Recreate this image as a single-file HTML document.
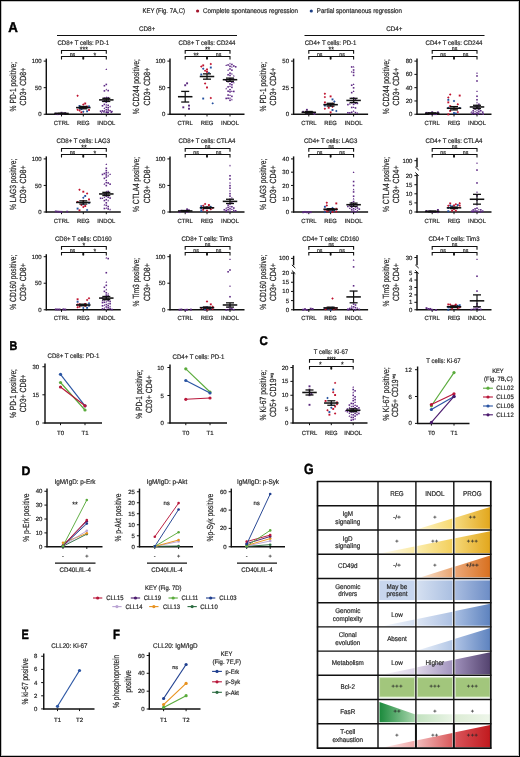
<!DOCTYPE html>
<html><head><meta charset="utf-8"><style>
html,body{margin:0;padding:0;background:#fff;}
body{width:520px;height:757px;overflow:hidden;}
svg{display:block;font-family:"Liberation Sans", sans-serif;will-change:transform;}
text{stroke:#2a2a2a;stroke-width:0.2px;text-rendering:geometricPrecision;}
</style></head><body>
<svg width="520" height="757" viewBox="0 0 520 757">
<defs><linearGradient id="g0" x1="0" y1="0" x2="1" y2="0"><stop offset="0" stop-color="#fdf3c6"/><stop offset="1" stop-color="#f6d971"/></linearGradient><linearGradient id="g1" x1="0" y1="0" x2="1" y2="0"><stop offset="0" stop-color="#f6da7e"/><stop offset="1" stop-color="#e2a71d"/></linearGradient><linearGradient id="g2" x1="0" y1="0" x2="1" y2="0"><stop offset="0" stop-color="#fffaea"/><stop offset="1" stop-color="#faeaa6"/></linearGradient><linearGradient id="g3" x1="0" y1="0" x2="1" y2="0"><stop offset="0" stop-color="#fbecab"/><stop offset="1" stop-color="#f3cf5c"/></linearGradient><linearGradient id="g4" x1="0" y1="0" x2="1" y2="0"><stop offset="0" stop-color="#f5d776"/><stop offset="1" stop-color="#e2a71d"/></linearGradient><linearGradient id="g5" x1="0" y1="0" x2="1" y2="0"><stop offset="0" stop-color="#f9e2cc"/><stop offset="1" stop-color="#eaa673"/></linearGradient><linearGradient id="g6" x1="0" y1="0" x2="1" y2="0"><stop offset="0" stop-color="#eca878"/><stop offset="1" stop-color="#d8701f"/></linearGradient><linearGradient id="g7" x1="0" y1="0" x2="1" y2="0"><stop offset="0" stop-color="#d5e0f1"/><stop offset="1" stop-color="#aabfe1"/></linearGradient><linearGradient id="g8" x1="0" y1="0" x2="1" y2="0"><stop offset="0" stop-color="#a9bde0"/><stop offset="1" stop-color="#6d8dc6"/></linearGradient><linearGradient id="g9" x1="0" y1="0" x2="1" y2="0"><stop offset="0" stop-color="#f0f4fb"/><stop offset="1" stop-color="#d5e0f2"/></linearGradient><linearGradient id="g10" x1="0" y1="0" x2="1" y2="0"><stop offset="0" stop-color="#dce5f4"/><stop offset="1" stop-color="#adc1e3"/></linearGradient><linearGradient id="g11" x1="0" y1="0" x2="1" y2="0"><stop offset="0" stop-color="#a8bee2"/><stop offset="1" stop-color="#5e83bf"/></linearGradient><linearGradient id="g12" x1="0" y1="0" x2="1" y2="0"><stop offset="0" stop-color="#eaf0f9"/><stop offset="1" stop-color="#b3c7e6"/></linearGradient><linearGradient id="g13" x1="0" y1="0" x2="1" y2="0"><stop offset="0" stop-color="#afc3e5"/><stop offset="1" stop-color="#5e83bf"/></linearGradient><linearGradient id="g14" x1="0" y1="0" x2="1" y2="0"><stop offset="0" stop-color="#f5f2f8"/><stop offset="1" stop-color="#ddd5e8"/></linearGradient><linearGradient id="g15" x1="0" y1="0" x2="1" y2="0"><stop offset="0" stop-color="#ded6e8"/><stop offset="1" stop-color="#a395bf"/></linearGradient><linearGradient id="g16" x1="0" y1="0" x2="1" y2="0"><stop offset="0" stop-color="#9e8fba"/><stop offset="1" stop-color="#54436f"/></linearGradient><linearGradient id="g17" x1="0" y1="0" x2="1" y2="0"><stop offset="0" stop-color="#1b8a3c"/><stop offset="1" stop-color="#a9d6ad"/></linearGradient><linearGradient id="g18" x1="0" y1="0" x2="1" y2="0"><stop offset="0" stop-color="#c3e2c0"/><stop offset="1" stop-color="#eaf4e6"/></linearGradient><linearGradient id="g19" x1="0" y1="0" x2="1" y2="0"><stop offset="0" stop-color="#dcecd5"/><stop offset="1" stop-color="#eef6ea"/></linearGradient><linearGradient id="g20" x1="0" y1="0" x2="1" y2="0"><stop offset="0" stop-color="#fdeaea"/><stop offset="1" stop-color="#f0a9a9"/></linearGradient><linearGradient id="g21" x1="0" y1="0" x2="1" y2="0"><stop offset="0" stop-color="#f2baba"/><stop offset="1" stop-color="#d95a5c"/></linearGradient><linearGradient id="g22" x1="0" y1="0" x2="1" y2="0"><stop offset="0" stop-color="#d9545a"/><stop offset="1" stop-color="#c11a1e"/></linearGradient></defs>
<rect x="0" y="0" width="520" height="757" fill="#fff"/>
<text x="142.50" y="13.24" font-size="6.8" text-anchor="start" fill="#262626" textLength="42.50" lengthAdjust="spacingAndGlyphs">KEY (Fig. 7A,C)</text>
<circle cx="197.60" cy="11.00" r="1.6" fill="#a3142c"/>
<text x="203.00" y="13.24" font-size="6.8" text-anchor="start" fill="#262626" textLength="95.00" lengthAdjust="spacingAndGlyphs">Complete spontaneous regression</text>
<circle cx="311.30" cy="11.00" r="1.6" fill="#1d3f86"/>
<text x="316.80" y="13.24" font-size="6.8" text-anchor="start" fill="#262626" textLength="85.20" lengthAdjust="spacingAndGlyphs">Partial spontaneous regression</text>
<text x="8.30" y="31.90" font-size="14.06" font-weight="bold" fill="#000" style="stroke:#000;stroke-width:0.45px" textLength="9.60" lengthAdjust="spacingAndGlyphs">A</text>
<text x="9.60" y="349.60" font-size="12.61" font-weight="bold" fill="#000" style="stroke:#000;stroke-width:0.45px" textLength="7.80" lengthAdjust="spacingAndGlyphs">B</text>
<text x="259.60" y="344.60" font-size="12.61" font-weight="bold" fill="#000" style="stroke:#000;stroke-width:0.45px" textLength="8.30" lengthAdjust="spacingAndGlyphs">C</text>
<text x="21.40" y="474.60" font-size="12.32" font-weight="bold" fill="#000" style="stroke:#000;stroke-width:0.45px" textLength="8.90" lengthAdjust="spacingAndGlyphs">D</text>
<text x="21.40" y="639.30" font-size="13.48" font-weight="bold" fill="#000" style="stroke:#000;stroke-width:0.45px" textLength="7.30" lengthAdjust="spacingAndGlyphs">E</text>
<text x="113.00" y="639.30" font-size="13.48" font-weight="bold" fill="#000" style="stroke:#000;stroke-width:0.45px" textLength="7.00" lengthAdjust="spacingAndGlyphs">F</text>
<text x="304.00" y="474.40" font-size="14.64" font-weight="bold" fill="#000" style="stroke:#000;stroke-width:0.45px" textLength="9.60" lengthAdjust="spacingAndGlyphs">G</text>
<text x="147.00" y="30.90" font-size="6.7" text-anchor="middle" fill="#262626" textLength="16.20" lengthAdjust="spacingAndGlyphs">CD8+</text>
<line x1="57.00" y1="35.50" x2="237.00" y2="35.50" stroke="#111" stroke-width="1.2"/>
<text x="394.40" y="30.90" font-size="6.7" text-anchor="middle" fill="#262626" textLength="16.20" lengthAdjust="spacingAndGlyphs">CD4+</text>
<line x1="304.50" y1="35.50" x2="484.50" y2="35.50" stroke="#111" stroke-width="1.2"/>
<text x="83.30" y="44.77" font-size="6.6" text-anchor="middle" fill="#262626" textLength="51.72" lengthAdjust="spacingAndGlyphs">CD8+ T cells: PD-1</text>
<text x="83.90" y="52.25" font-size="7.6" text-anchor="middle" fill="#111" textLength="8.10" lengthAdjust="spacingAndGlyphs">***</text>
<path d="M61.50,53.70 V50.50 H106.30 V53.70" fill="none" stroke="#111" stroke-width="1.1"/>
<path d="M61.50,59.40 V56.50 H106.30 V59.40 M83.30,56.50 V59.40" fill="none" stroke="#111" stroke-width="1.1"/>
<rect x="82.40" y="57.10" width="1.80" height="2.20" fill="#111"/>
<text x="72.40" y="55.59" font-size="5.2" text-anchor="middle" fill="#262626">ns</text>
<text x="94.80" y="57.75" font-size="7.6" text-anchor="middle" fill="#111" textLength="2.70" lengthAdjust="spacingAndGlyphs">*</text>
<line x1="46.30" y1="58.60" x2="46.30" y2="114.85" stroke="#111" stroke-width="1.45"/>
<line x1="45.70" y1="114.25" x2="120.80" y2="114.25" stroke="#111" stroke-width="1.45"/>
<line x1="43.70" y1="61.10" x2="46.30" y2="61.10" stroke="#111" stroke-width="1.0"/>
<text x="41.70" y="63.16" font-size="6.0" text-anchor="end" fill="#262626">100</text>
<line x1="43.70" y1="87.67" x2="46.30" y2="87.67" stroke="#111" stroke-width="1.0"/>
<text x="41.70" y="89.74" font-size="6.0" text-anchor="end" fill="#262626">50</text>
<line x1="43.70" y1="114.25" x2="46.30" y2="114.25" stroke="#111" stroke-width="1.0"/>
<text x="41.70" y="116.31" font-size="6.0" text-anchor="end" fill="#262626">0</text>
<line x1="61.50" y1="114.25" x2="61.50" y2="116.45" stroke="#111" stroke-width="1.0"/>
<text x="61.50" y="124.86" font-size="6.0" text-anchor="middle" fill="#262626" textLength="15.28" lengthAdjust="spacingAndGlyphs">CTRL</text>
<line x1="83.30" y1="114.25" x2="83.30" y2="116.45" stroke="#111" stroke-width="1.0"/>
<text x="83.30" y="124.86" font-size="6.0" text-anchor="middle" fill="#262626" textLength="12.68" lengthAdjust="spacingAndGlyphs">REG</text>
<line x1="106.30" y1="114.25" x2="106.30" y2="116.45" stroke="#111" stroke-width="1.0"/>
<text x="106.30" y="124.86" font-size="6.0" text-anchor="middle" fill="#262626" textLength="17.88" lengthAdjust="spacingAndGlyphs">INDOL</text>
<text x="15.70" y="86.65" font-size="8.9" text-anchor="middle" fill="#262626" textLength="49.52" lengthAdjust="spacingAndGlyphs" transform="rotate(-90 15.70 86.65)">% PD-1 positive;</text>
<text x="25.90" y="86.65" font-size="8.9" text-anchor="middle" fill="#262626" textLength="37.86" lengthAdjust="spacingAndGlyphs" transform="rotate(-90 25.90 86.65)">CD3+ CD8+</text>
<rect x="60.55" y="111.80" width="1.90" height="1.90" fill="#5b2a7e"/>
<rect x="64.35" y="112.11" width="1.90" height="1.90" fill="#5b2a7e"/>
<rect x="62.45" y="112.69" width="1.90" height="1.90" fill="#5b2a7e"/>
<rect x="54.85" y="112.60" width="1.90" height="1.90" fill="#5b2a7e"/>
<rect x="58.65" y="112.95" width="1.90" height="1.90" fill="#5b2a7e"/>
<rect x="56.75" y="113.18" width="1.90" height="1.90" fill="#5b2a7e"/>
<polygon points="77.60,94.61 78.83,95.84 77.60,97.08 76.36,95.84" fill="#c0122e"/>
<rect x="84.25" y="102.53" width="1.90" height="1.90" fill="#c0122e"/>
<polygon points="83.30,103.28 84.53,104.52 83.30,105.75 82.06,104.52" fill="#c0122e"/>
<rect x="78.55" y="105.04" width="1.90" height="1.90" fill="#234f9e"/>
<polygon points="89.00,104.91 90.23,106.14 89.00,107.38 87.77,106.14" fill="#234f9e"/>
<rect x="86.15" y="105.68" width="1.90" height="1.90" fill="#c0122e"/>
<polygon points="83.30,106.08 84.53,107.32 83.30,108.55 82.06,107.32" fill="#c0122e"/>
<rect x="84.25" y="106.87" width="1.90" height="1.90" fill="#c0122e"/>
<polygon points="79.50,107.00 80.73,108.23 79.50,109.47 78.27,108.23" fill="#234f9e"/>
<rect x="80.45" y="108.21" width="1.90" height="1.90" fill="#234f9e"/>
<polygon points="77.60,108.46 78.83,109.69 77.60,110.93 76.36,109.69" fill="#c0122e"/>
<rect x="88.05" y="109.04" width="1.90" height="1.90" fill="#c0122e"/>
<polygon points="79.50,109.30 80.73,110.54 79.50,111.77 78.27,110.54" fill="#c0122e"/>
<rect x="86.15" y="110.35" width="1.90" height="1.90" fill="#234f9e"/>
<polygon points="83.30,110.49 84.53,111.73 83.30,112.96 82.06,111.73" fill="#234f9e"/>
<rect x="80.45" y="111.33" width="1.90" height="1.90" fill="#c0122e"/>
<polygon points="106.30,68.36 107.18,70.12 105.42,70.12" fill="#5e2a85"/>
<rect x="105.50" y="83.64" width="1.60" height="1.60" fill="#5e2a85"/>
<rect x="103.60" y="84.94" width="1.60" height="1.60" fill="#5e2a85"/>
<polygon points="106.30,88.60 107.18,90.36 105.42,90.36" fill="#5e2a85"/>
<rect x="107.40" y="89.80" width="1.60" height="1.60" fill="#5e2a85"/>
<rect x="103.60" y="90.09" width="1.60" height="1.60" fill="#5e2a85"/>
<polygon points="106.30,96.33 107.18,98.09 105.42,98.09" fill="#5e2a85"/>
<rect x="107.40" y="96.92" width="1.60" height="1.60" fill="#5e2a85"/>
<rect x="103.60" y="97.38" width="1.60" height="1.60" fill="#5e2a85"/>
<polygon points="106.30,98.93 107.18,100.69 105.42,100.69" fill="#5e2a85"/>
<rect x="107.40" y="99.11" width="1.60" height="1.60" fill="#5e2a85"/>
<rect x="103.60" y="99.82" width="1.60" height="1.60" fill="#5e2a85"/>
<polygon points="102.50,100.33 103.38,102.09 101.62,102.09" fill="#5e2a85"/>
<rect x="105.50" y="101.48" width="1.60" height="1.60" fill="#5e2a85"/>
<rect x="103.60" y="103.58" width="1.60" height="1.60" fill="#5e2a85"/>
<polygon points="106.30,103.83 107.18,105.59 105.42,105.59" fill="#5e2a85"/>
<rect x="107.40" y="104.53" width="1.60" height="1.60" fill="#5e2a85"/>
<rect x="101.70" y="105.00" width="1.60" height="1.60" fill="#5e2a85"/>
<polygon points="110.10,105.48 110.98,107.24 109.22,107.24" fill="#5e2a85"/>
<rect x="105.50" y="106.51" width="1.60" height="1.60" fill="#5e2a85"/>
<rect x="107.40" y="106.92" width="1.60" height="1.60" fill="#5e2a85"/>
<polygon points="104.40,107.19 105.28,108.95 103.52,108.95" fill="#5e2a85"/>
<rect x="105.50" y="108.99" width="1.60" height="1.60" fill="#5e2a85"/>
<rect x="107.40" y="109.15" width="1.60" height="1.60" fill="#5e2a85"/>
<polygon points="104.40,109.60 105.28,111.36 103.52,111.36" fill="#5e2a85"/>
<rect x="109.30" y="109.94" width="1.60" height="1.60" fill="#5e2a85"/>
<rect x="101.70" y="110.07" width="1.60" height="1.60" fill="#5e2a85"/>
<polygon points="112.00,110.27 112.88,112.03 111.12,112.03" fill="#5e2a85"/>
<rect x="99.80" y="110.44" width="1.60" height="1.60" fill="#5e2a85"/>
<rect x="103.20" y="111.06" width="1.60" height="1.60" fill="#5e2a85"/>
<polygon points="106.30,111.15 107.18,112.91 105.42,112.91" fill="#5e2a85"/>
<rect x="110.75" y="111.10" width="1.60" height="1.60" fill="#5e2a85"/>
<rect x="107.40" y="111.48" width="1.60" height="1.60" fill="#5e2a85"/>
<polygon points="111.29,111.28 112.17,113.04 110.41,113.04" fill="#5e2a85"/>
<rect x="105.64" y="111.26" width="1.60" height="1.60" fill="#5e2a85"/>
<rect x="106.93" y="111.75" width="1.60" height="1.60" fill="#5e2a85"/>
<polygon points="101.57,111.62 102.45,113.38 100.69,113.38" fill="#5e2a85"/>
<line x1="54.25" y1="113.45" x2="68.75" y2="113.45" stroke="#111" stroke-width="1.55"/>
<line x1="61.50" y1="113.67" x2="61.50" y2="113.24" stroke="#111" stroke-width="1.2"/>
<line x1="57.50" y1="113.67" x2="65.50" y2="113.67" stroke="#111" stroke-width="1.3"/>
<line x1="57.50" y1="113.24" x2="65.50" y2="113.24" stroke="#111" stroke-width="1.3"/>
<line x1="76.05" y1="107.61" x2="90.55" y2="107.61" stroke="#111" stroke-width="1.55"/>
<line x1="83.30" y1="108.78" x2="83.30" y2="106.44" stroke="#111" stroke-width="1.2"/>
<line x1="79.30" y1="108.78" x2="87.30" y2="108.78" stroke="#111" stroke-width="1.3"/>
<line x1="79.30" y1="106.44" x2="87.30" y2="106.44" stroke="#111" stroke-width="1.3"/>
<line x1="99.05" y1="99.90" x2="113.55" y2="99.90" stroke="#111" stroke-width="1.55"/>
<line x1="106.30" y1="101.49" x2="106.30" y2="98.31" stroke="#111" stroke-width="1.2"/>
<line x1="102.30" y1="101.49" x2="110.30" y2="101.49" stroke="#111" stroke-width="1.3"/>
<line x1="102.30" y1="98.31" x2="110.30" y2="98.31" stroke="#111" stroke-width="1.3"/>
<text x="207.00" y="44.77" font-size="6.6" text-anchor="middle" fill="#262626" textLength="56.77" lengthAdjust="spacingAndGlyphs">CD8+ T cells: CD244</text>
<text x="207.60" y="52.25" font-size="7.6" text-anchor="middle" fill="#111" textLength="5.40" lengthAdjust="spacingAndGlyphs">**</text>
<path d="M185.20,53.70 V50.50 H230.00 V53.70" fill="none" stroke="#111" stroke-width="1.1"/>
<path d="M185.20,59.40 V56.50 H230.00 V59.40 M207.00,56.50 V59.40" fill="none" stroke="#111" stroke-width="1.1"/>
<rect x="206.10" y="57.10" width="1.80" height="2.20" fill="#111"/>
<text x="196.10" y="57.75" font-size="7.6" text-anchor="middle" fill="#111" textLength="5.40" lengthAdjust="spacingAndGlyphs">**</text>
<text x="218.50" y="55.59" font-size="5.2" text-anchor="middle" fill="#262626">ns</text>
<line x1="170.00" y1="58.60" x2="170.00" y2="114.85" stroke="#111" stroke-width="1.45"/>
<line x1="169.40" y1="114.25" x2="244.50" y2="114.25" stroke="#111" stroke-width="1.45"/>
<line x1="167.40" y1="61.10" x2="170.00" y2="61.10" stroke="#111" stroke-width="1.0"/>
<text x="165.40" y="63.16" font-size="6.0" text-anchor="end" fill="#262626">100</text>
<line x1="167.40" y1="87.67" x2="170.00" y2="87.67" stroke="#111" stroke-width="1.0"/>
<text x="165.40" y="89.74" font-size="6.0" text-anchor="end" fill="#262626">50</text>
<line x1="167.40" y1="114.25" x2="170.00" y2="114.25" stroke="#111" stroke-width="1.0"/>
<text x="165.40" y="116.31" font-size="6.0" text-anchor="end" fill="#262626">0</text>
<line x1="185.20" y1="114.25" x2="185.20" y2="116.45" stroke="#111" stroke-width="1.0"/>
<text x="185.20" y="124.86" font-size="6.0" text-anchor="middle" fill="#262626" textLength="15.28" lengthAdjust="spacingAndGlyphs">CTRL</text>
<line x1="207.00" y1="114.25" x2="207.00" y2="116.45" stroke="#111" stroke-width="1.0"/>
<text x="207.00" y="124.86" font-size="6.0" text-anchor="middle" fill="#262626" textLength="12.68" lengthAdjust="spacingAndGlyphs">REG</text>
<line x1="230.00" y1="114.25" x2="230.00" y2="116.45" stroke="#111" stroke-width="1.0"/>
<text x="230.00" y="124.86" font-size="6.0" text-anchor="middle" fill="#262626" textLength="17.88" lengthAdjust="spacingAndGlyphs">INDOL</text>
<text x="139.40" y="86.65" font-size="8.9" text-anchor="middle" fill="#262626" textLength="55.11" lengthAdjust="spacingAndGlyphs" transform="rotate(-90 139.40 86.65)">% CD244 positive;</text>
<text x="149.60" y="86.65" font-size="8.9" text-anchor="middle" fill="#262626" textLength="37.86" lengthAdjust="spacingAndGlyphs" transform="rotate(-90 149.60 86.65)">CD3+ CD8+</text>
<rect x="186.15" y="82.35" width="1.90" height="1.90" fill="#5b2a7e"/>
<rect x="184.25" y="84.31" width="1.90" height="1.90" fill="#5b2a7e"/>
<rect x="188.05" y="104.64" width="1.90" height="1.90" fill="#5b2a7e"/>
<rect x="182.35" y="106.36" width="1.90" height="1.90" fill="#5b2a7e"/>
<rect x="188.05" y="107.79" width="1.90" height="1.90" fill="#5b2a7e"/>
<polygon points="210.80,62.73 212.04,63.96 210.80,65.20 209.56,63.96" fill="#c0122e"/>
<rect x="202.25" y="64.42" width="1.90" height="1.90" fill="#c0122e"/>
<polygon points="201.30,65.33 202.54,66.56 201.30,67.80 200.06,66.56" fill="#c0122e"/>
<rect x="209.85" y="66.58" width="1.90" height="1.90" fill="#234f9e"/>
<polygon points="203.20,67.52 204.44,68.75 203.20,69.99 201.96,68.75" fill="#234f9e"/>
<rect x="206.05" y="68.53" width="1.90" height="1.90" fill="#c0122e"/>
<polygon points="205.10,69.43 206.34,70.67 205.10,71.90 203.86,70.67" fill="#c0122e"/>
<rect x="206.05" y="70.90" width="1.90" height="1.90" fill="#c0122e"/>
<polygon points="208.90,71.64 210.14,72.87 208.90,74.11 207.66,72.87" fill="#234f9e"/>
<rect x="200.35" y="73.53" width="1.90" height="1.90" fill="#234f9e"/>
<polygon points="205.10,82.36 206.34,83.59 205.10,84.83 203.86,83.59" fill="#c0122e"/>
<rect x="206.05" y="86.52" width="1.90" height="1.90" fill="#c0122e"/>
<polygon points="210.80,96.84 212.04,98.08 210.80,99.31 209.56,98.08" fill="#c0122e"/>
<rect x="202.25" y="97.59" width="1.90" height="1.90" fill="#234f9e"/>
<polygon points="212.70,102.14 213.94,103.37 212.70,104.61 211.46,103.37" fill="#234f9e"/>
<polygon points="230.00,62.38 230.88,64.14 229.12,64.14" fill="#5e2a85"/>
<rect x="231.10" y="63.66" width="1.60" height="1.60" fill="#5e2a85"/>
<rect x="227.30" y="64.16" width="1.60" height="1.60" fill="#5e2a85"/>
<polygon points="226.20,64.28 227.08,66.04 225.32,66.04" fill="#5e2a85"/>
<rect x="229.20" y="65.54" width="1.60" height="1.60" fill="#5e2a85"/>
<rect x="233.00" y="65.18" width="1.60" height="1.60" fill="#5e2a85"/>
<polygon points="231.90,65.65 232.78,67.41 231.02,67.41" fill="#5e2a85"/>
<rect x="234.90" y="66.03" width="1.60" height="1.60" fill="#5e2a85"/>
<rect x="229.20" y="68.16" width="1.60" height="1.60" fill="#5e2a85"/>
<polygon points="228.10,69.08 228.98,70.84 227.22,70.84" fill="#5e2a85"/>
<rect x="231.10" y="69.36" width="1.60" height="1.60" fill="#5e2a85"/>
<rect x="229.20" y="72.40" width="1.60" height="1.60" fill="#5e2a85"/>
<polygon points="231.90,72.72 232.78,74.48 231.02,74.48" fill="#5e2a85"/>
<rect x="227.30" y="73.95" width="1.60" height="1.60" fill="#5e2a85"/>
<rect x="229.20" y="74.63" width="1.60" height="1.60" fill="#5e2a85"/>
<polygon points="233.80,74.65 234.68,76.41 232.92,76.41" fill="#5e2a85"/>
<rect x="229.20" y="77.89" width="1.60" height="1.60" fill="#5e2a85"/>
<rect x="231.10" y="78.24" width="1.60" height="1.60" fill="#5e2a85"/>
<polygon points="228.10,78.20 228.98,79.96 227.22,79.96" fill="#5e2a85"/>
<rect x="233.00" y="78.65" width="1.60" height="1.60" fill="#5e2a85"/>
<rect x="225.40" y="79.44" width="1.60" height="1.60" fill="#5e2a85"/>
<polygon points="230.00,80.25 230.88,82.01 229.12,82.01" fill="#5e2a85"/>
<rect x="227.30" y="80.82" width="1.60" height="1.60" fill="#5e2a85"/>
<rect x="231.10" y="81.41" width="1.60" height="1.60" fill="#5e2a85"/>
<polygon points="233.80,81.60 234.68,83.36 232.92,83.36" fill="#5e2a85"/>
<rect x="229.20" y="83.10" width="1.60" height="1.60" fill="#5e2a85"/>
<rect x="231.10" y="83.92" width="1.60" height="1.60" fill="#5e2a85"/>
<polygon points="230.00,85.34 230.88,87.10 229.12,87.10" fill="#5e2a85"/>
<rect x="227.30" y="86.07" width="1.60" height="1.60" fill="#5e2a85"/>
<rect x="231.10" y="86.56" width="1.60" height="1.60" fill="#5e2a85"/>
<polygon points="226.20,87.39 227.08,89.15 225.32,89.15" fill="#5e2a85"/>
<rect x="229.20" y="88.88" width="1.60" height="1.60" fill="#5e2a85"/>
<rect x="227.30" y="90.41" width="1.60" height="1.60" fill="#5e2a85"/>
<polygon points="231.90,90.26 232.78,92.02 231.02,92.02" fill="#5e2a85"/>
<rect x="233.00" y="90.63" width="1.60" height="1.60" fill="#5e2a85"/>
<rect x="229.20" y="91.06" width="1.60" height="1.60" fill="#5e2a85"/>
<polygon points="230.00,94.27 230.88,96.03 229.12,96.03" fill="#5e2a85"/>
<rect x="227.30" y="94.25" width="1.60" height="1.60" fill="#5e2a85"/>
<rect x="231.10" y="95.55" width="1.60" height="1.60" fill="#5e2a85"/>
<polygon points="230.00,97.01 230.88,98.77 229.12,98.77" fill="#5e2a85"/>
<rect x="227.30" y="97.46" width="1.60" height="1.60" fill="#5e2a85"/>
<rect x="225.40" y="97.63" width="1.60" height="1.60" fill="#5e2a85"/>
<polygon points="231.90,98.56 232.78,100.32 231.02,100.32" fill="#5e2a85"/>
<rect x="229.20" y="99.51" width="1.60" height="1.60" fill="#5e2a85"/>
<line x1="177.95" y1="96.71" x2="192.45" y2="96.71" stroke="#111" stroke-width="1.55"/>
<line x1="185.20" y1="102.03" x2="185.20" y2="91.40" stroke="#111" stroke-width="1.2"/>
<line x1="181.20" y1="102.03" x2="189.20" y2="102.03" stroke="#111" stroke-width="1.3"/>
<line x1="181.20" y1="91.40" x2="189.20" y2="91.40" stroke="#111" stroke-width="1.3"/>
<line x1="199.75" y1="76.51" x2="214.25" y2="76.51" stroke="#111" stroke-width="1.55"/>
<line x1="207.00" y1="79.17" x2="207.00" y2="73.86" stroke="#111" stroke-width="1.2"/>
<line x1="203.00" y1="79.17" x2="211.00" y2="79.17" stroke="#111" stroke-width="1.3"/>
<line x1="203.00" y1="73.86" x2="211.00" y2="73.86" stroke="#111" stroke-width="1.3"/>
<line x1="222.75" y1="79.70" x2="237.25" y2="79.70" stroke="#111" stroke-width="1.55"/>
<line x1="230.00" y1="81.30" x2="230.00" y2="78.11" stroke="#111" stroke-width="1.2"/>
<line x1="226.00" y1="81.30" x2="234.00" y2="81.30" stroke="#111" stroke-width="1.3"/>
<line x1="226.00" y1="78.11" x2="234.00" y2="78.11" stroke="#111" stroke-width="1.3"/>
<text x="330.60" y="44.77" font-size="6.6" text-anchor="middle" fill="#262626" textLength="51.72" lengthAdjust="spacingAndGlyphs">CD4+ T cells: PD-1</text>
<text x="331.20" y="52.25" font-size="7.6" text-anchor="middle" fill="#111" textLength="5.40" lengthAdjust="spacingAndGlyphs">**</text>
<path d="M308.80,53.70 V50.50 H353.60 V53.70" fill="none" stroke="#111" stroke-width="1.1"/>
<path d="M308.80,59.40 V56.50 H353.60 V59.40 M330.60,56.50 V59.40" fill="none" stroke="#111" stroke-width="1.1"/>
<rect x="329.70" y="57.10" width="1.80" height="2.20" fill="#111"/>
<text x="319.70" y="55.59" font-size="5.2" text-anchor="middle" fill="#262626">ns</text>
<text x="342.10" y="55.59" font-size="5.2" text-anchor="middle" fill="#262626">ns</text>
<line x1="293.60" y1="58.60" x2="293.60" y2="114.85" stroke="#111" stroke-width="1.45"/>
<line x1="293.00" y1="114.25" x2="368.10" y2="114.25" stroke="#111" stroke-width="1.45"/>
<line x1="291.00" y1="61.10" x2="293.60" y2="61.10" stroke="#111" stroke-width="1.0"/>
<text x="289.00" y="63.16" font-size="6.0" text-anchor="end" fill="#262626">50</text>
<line x1="291.00" y1="87.67" x2="293.60" y2="87.67" stroke="#111" stroke-width="1.0"/>
<text x="289.00" y="89.74" font-size="6.0" text-anchor="end" fill="#262626">25</text>
<line x1="291.00" y1="114.25" x2="293.60" y2="114.25" stroke="#111" stroke-width="1.0"/>
<text x="289.00" y="116.31" font-size="6.0" text-anchor="end" fill="#262626">0</text>
<line x1="308.80" y1="114.25" x2="308.80" y2="116.45" stroke="#111" stroke-width="1.0"/>
<text x="308.80" y="124.86" font-size="6.0" text-anchor="middle" fill="#262626" textLength="15.28" lengthAdjust="spacingAndGlyphs">CTRL</text>
<line x1="330.60" y1="114.25" x2="330.60" y2="116.45" stroke="#111" stroke-width="1.0"/>
<text x="330.60" y="124.86" font-size="6.0" text-anchor="middle" fill="#262626" textLength="12.68" lengthAdjust="spacingAndGlyphs">REG</text>
<line x1="353.60" y1="114.25" x2="353.60" y2="116.45" stroke="#111" stroke-width="1.0"/>
<text x="353.60" y="124.86" font-size="6.0" text-anchor="middle" fill="#262626" textLength="17.88" lengthAdjust="spacingAndGlyphs">INDOL</text>
<text x="266.00" y="86.65" font-size="8.9" text-anchor="middle" fill="#262626" textLength="49.52" lengthAdjust="spacingAndGlyphs" transform="rotate(-90 266.00 86.65)">% PD-1 positive;</text>
<text x="276.20" y="86.65" font-size="8.9" text-anchor="middle" fill="#262626" textLength="37.86" lengthAdjust="spacingAndGlyphs" transform="rotate(-90 276.20 86.65)">CD3+ CD4+</text>
<rect x="305.95" y="108.86" width="1.90" height="1.90" fill="#5b2a7e"/>
<rect x="302.15" y="110.84" width="1.90" height="1.90" fill="#5b2a7e"/>
<rect x="311.65" y="111.64" width="1.90" height="1.90" fill="#5b2a7e"/>
<rect x="305.95" y="112.30" width="1.90" height="1.90" fill="#5b2a7e"/>
<rect x="313.55" y="112.91" width="1.90" height="1.90" fill="#5b2a7e"/>
<polygon points="324.90,92.59 326.14,93.83 324.90,95.06 323.67,93.83" fill="#c0122e"/>
<rect x="329.65" y="95.43" width="1.90" height="1.90" fill="#c0122e"/>
<polygon points="324.90,95.88 326.14,97.12 324.90,98.35 323.67,97.12" fill="#c0122e"/>
<rect x="331.55" y="98.45" width="1.90" height="1.90" fill="#234f9e"/>
<polygon points="334.40,100.28 335.64,101.52 334.40,102.75 333.17,101.52" fill="#234f9e"/>
<rect x="323.95" y="101.48" width="1.90" height="1.90" fill="#c0122e"/>
<polygon points="332.50,102.54 333.74,103.77 332.50,105.01 331.26,103.77" fill="#c0122e"/>
<rect x="327.75" y="103.67" width="1.90" height="1.90" fill="#c0122e"/>
<polygon points="330.60,104.31 331.84,105.54 330.60,106.78 329.37,105.54" fill="#234f9e"/>
<rect x="323.95" y="104.61" width="1.90" height="1.90" fill="#234f9e"/>
<polygon points="332.50,105.52 333.74,106.75 332.50,107.99 331.26,106.75" fill="#c0122e"/>
<rect x="327.75" y="106.78" width="1.90" height="1.90" fill="#c0122e"/>
<polygon points="324.90,107.45 326.14,108.69 324.90,109.92 323.67,108.69" fill="#c0122e"/>
<rect x="331.55" y="109.06" width="1.90" height="1.90" fill="#234f9e"/>
<polygon points="336.30,109.77 337.54,111.01 336.30,112.24 335.06,111.01" fill="#234f9e"/>
<rect x="329.65" y="111.40" width="1.90" height="1.90" fill="#c0122e"/>
<polygon points="353.60,65.63 354.48,67.39 352.72,67.39" fill="#5e2a85"/>
<rect x="350.90" y="66.15" width="1.60" height="1.60" fill="#5e2a85"/>
<rect x="352.80" y="69.19" width="1.60" height="1.60" fill="#5e2a85"/>
<polygon points="351.70,70.68 352.58,72.44 350.82,72.44" fill="#5e2a85"/>
<rect x="352.80" y="71.63" width="1.60" height="1.60" fill="#5e2a85"/>
<rect x="352.80" y="74.57" width="1.60" height="1.60" fill="#5e2a85"/>
<polygon points="353.60,83.16 354.48,84.92 352.72,84.92" fill="#5e2a85"/>
<rect x="350.90" y="84.44" width="1.60" height="1.60" fill="#5e2a85"/>
<rect x="352.80" y="87.05" width="1.60" height="1.60" fill="#5e2a85"/>
<polygon points="353.60,90.25 354.48,92.01 352.72,92.01" fill="#5e2a85"/>
<rect x="350.90" y="91.84" width="1.60" height="1.60" fill="#5e2a85"/>
<rect x="352.80" y="97.12" width="1.60" height="1.60" fill="#5e2a85"/>
<polygon points="351.70,97.24 352.58,99.00 350.82,99.00" fill="#5e2a85"/>
<rect x="354.70" y="98.84" width="1.60" height="1.60" fill="#5e2a85"/>
<rect x="352.80" y="101.35" width="1.60" height="1.60" fill="#5e2a85"/>
<polygon points="351.70,101.80 352.58,103.56 350.82,103.56" fill="#5e2a85"/>
<rect x="354.70" y="102.46" width="1.60" height="1.60" fill="#5e2a85"/>
<rect x="356.60" y="102.62" width="1.60" height="1.60" fill="#5e2a85"/>
<polygon points="349.80,102.64 350.68,104.40 348.92,104.40" fill="#5e2a85"/>
<rect x="352.80" y="103.53" width="1.60" height="1.60" fill="#5e2a85"/>
<rect x="347.10" y="103.82" width="1.60" height="1.60" fill="#5e2a85"/>
<polygon points="353.60,106.22 354.48,107.98 352.72,107.98" fill="#5e2a85"/>
<rect x="350.90" y="106.67" width="1.60" height="1.60" fill="#5e2a85"/>
<rect x="354.70" y="107.17" width="1.60" height="1.60" fill="#5e2a85"/>
<polygon points="353.60,110.11 354.48,111.87 352.72,111.87" fill="#5e2a85"/>
<rect x="350.90" y="111.49" width="1.60" height="1.60" fill="#5e2a85"/>
<rect x="354.70" y="111.82" width="1.60" height="1.60" fill="#5e2a85"/>
<polygon points="357.40,112.00 358.28,113.76 356.52,113.76" fill="#5e2a85"/>
<rect x="349.00" y="112.12" width="1.60" height="1.60" fill="#5e2a85"/>
<rect x="347.10" y="111.96" width="1.60" height="1.60" fill="#5e2a85"/>
<line x1="301.55" y1="112.34" x2="316.05" y2="112.34" stroke="#111" stroke-width="1.55"/>
<line x1="308.80" y1="113.19" x2="308.80" y2="111.49" stroke="#111" stroke-width="1.2"/>
<line x1="304.80" y1="113.19" x2="312.80" y2="113.19" stroke="#111" stroke-width="1.3"/>
<line x1="304.80" y1="111.49" x2="312.80" y2="111.49" stroke="#111" stroke-width="1.3"/>
<line x1="323.35" y1="104.68" x2="337.85" y2="104.68" stroke="#111" stroke-width="1.55"/>
<line x1="330.60" y1="106.06" x2="330.60" y2="103.30" stroke="#111" stroke-width="1.2"/>
<line x1="326.60" y1="106.06" x2="334.60" y2="106.06" stroke="#111" stroke-width="1.3"/>
<line x1="326.60" y1="103.30" x2="334.60" y2="103.30" stroke="#111" stroke-width="1.3"/>
<line x1="346.35" y1="100.43" x2="360.85" y2="100.43" stroke="#111" stroke-width="1.55"/>
<line x1="353.60" y1="102.56" x2="353.60" y2="98.31" stroke="#111" stroke-width="1.2"/>
<line x1="349.60" y1="102.56" x2="357.60" y2="102.56" stroke="#111" stroke-width="1.3"/>
<line x1="349.60" y1="98.31" x2="357.60" y2="98.31" stroke="#111" stroke-width="1.3"/>
<text x="454.00" y="44.77" font-size="6.6" text-anchor="middle" fill="#262626" textLength="56.77" lengthAdjust="spacingAndGlyphs">CD4+ T cells: CD244</text>
<text x="454.60" y="50.09" font-size="5.2" text-anchor="middle" fill="#262626">ns</text>
<path d="M432.20,53.70 V50.50 H477.00 V53.70" fill="none" stroke="#111" stroke-width="1.1"/>
<path d="M432.20,59.40 V56.50 H477.00 V59.40 M454.00,56.50 V59.40" fill="none" stroke="#111" stroke-width="1.1"/>
<rect x="453.10" y="57.10" width="1.80" height="2.20" fill="#111"/>
<text x="443.10" y="55.59" font-size="5.2" text-anchor="middle" fill="#262626">ns</text>
<text x="465.50" y="55.59" font-size="5.2" text-anchor="middle" fill="#262626">ns</text>
<line x1="417.00" y1="58.60" x2="417.00" y2="114.85" stroke="#111" stroke-width="1.45"/>
<line x1="416.40" y1="114.25" x2="491.50" y2="114.25" stroke="#111" stroke-width="1.45"/>
<line x1="414.40" y1="61.10" x2="417.00" y2="61.10" stroke="#111" stroke-width="1.0"/>
<text x="412.40" y="63.16" font-size="6.0" text-anchor="end" fill="#262626">80</text>
<line x1="414.40" y1="74.39" x2="417.00" y2="74.39" stroke="#111" stroke-width="1.0"/>
<text x="412.40" y="76.45" font-size="6.0" text-anchor="end" fill="#262626">60</text>
<line x1="414.40" y1="87.67" x2="417.00" y2="87.67" stroke="#111" stroke-width="1.0"/>
<text x="412.40" y="89.74" font-size="6.0" text-anchor="end" fill="#262626">40</text>
<line x1="414.40" y1="100.96" x2="417.00" y2="100.96" stroke="#111" stroke-width="1.0"/>
<text x="412.40" y="103.03" font-size="6.0" text-anchor="end" fill="#262626">20</text>
<line x1="414.40" y1="114.25" x2="417.00" y2="114.25" stroke="#111" stroke-width="1.0"/>
<text x="412.40" y="116.31" font-size="6.0" text-anchor="end" fill="#262626">0</text>
<line x1="432.20" y1="114.25" x2="432.20" y2="116.45" stroke="#111" stroke-width="1.0"/>
<text x="432.20" y="124.86" font-size="6.0" text-anchor="middle" fill="#262626" textLength="15.28" lengthAdjust="spacingAndGlyphs">CTRL</text>
<line x1="454.00" y1="114.25" x2="454.00" y2="116.45" stroke="#111" stroke-width="1.0"/>
<text x="454.00" y="124.86" font-size="6.0" text-anchor="middle" fill="#262626" textLength="12.68" lengthAdjust="spacingAndGlyphs">REG</text>
<line x1="477.00" y1="114.25" x2="477.00" y2="116.45" stroke="#111" stroke-width="1.0"/>
<text x="477.00" y="124.86" font-size="6.0" text-anchor="middle" fill="#262626" textLength="17.88" lengthAdjust="spacingAndGlyphs">INDOL</text>
<text x="388.70" y="86.65" font-size="8.9" text-anchor="middle" fill="#262626" textLength="55.11" lengthAdjust="spacingAndGlyphs" transform="rotate(-90 388.70 86.65)">% CD244 positive;</text>
<text x="398.90" y="86.65" font-size="8.9" text-anchor="middle" fill="#262626" textLength="37.86" lengthAdjust="spacingAndGlyphs" transform="rotate(-90 398.90 86.65)">CD3+ CD4+</text>
<rect x="431.25" y="111.27" width="1.90" height="1.90" fill="#5b2a7e"/>
<rect x="436.95" y="111.43" width="1.90" height="1.90" fill="#5b2a7e"/>
<rect x="425.55" y="111.90" width="1.90" height="1.90" fill="#5b2a7e"/>
<rect x="427.45" y="112.07" width="1.90" height="1.90" fill="#5b2a7e"/>
<rect x="429.35" y="112.83" width="1.90" height="1.90" fill="#5b2a7e"/>
<rect x="433.15" y="113.18" width="1.90" height="1.90" fill="#5b2a7e"/>
<rect x="435.05" y="113.15" width="1.90" height="1.90" fill="#5b2a7e"/>
<polygon points="450.20,93.30 451.44,94.53 450.20,95.77 448.96,94.53" fill="#c0122e"/>
<rect x="458.75" y="94.61" width="1.90" height="1.90" fill="#c0122e"/>
<polygon points="448.30,96.28 449.54,97.51 448.30,98.75 447.06,97.51" fill="#c0122e"/>
<rect x="447.35" y="98.88" width="1.90" height="1.90" fill="#234f9e"/>
<polygon points="454.00,99.73 455.24,100.96 454.00,102.20 452.76,100.96" fill="#234f9e"/>
<rect x="447.35" y="101.40" width="1.90" height="1.90" fill="#c0122e"/>
<polygon points="457.80,103.08 459.04,104.32 457.80,105.55 456.56,104.32" fill="#c0122e"/>
<rect x="449.25" y="105.20" width="1.90" height="1.90" fill="#c0122e"/>
<polygon points="448.30,106.62 449.54,107.85 448.30,109.09 447.06,107.85" fill="#234f9e"/>
<rect x="458.75" y="107.07" width="1.90" height="1.90" fill="#234f9e"/>
<polygon points="455.90,107.51 457.13,108.74 455.90,109.98 454.66,108.74" fill="#c0122e"/>
<rect x="449.25" y="109.95" width="1.90" height="1.90" fill="#c0122e"/>
<polygon points="457.80,110.88 459.04,112.12 457.80,113.35 456.56,112.12" fill="#c0122e"/>
<rect x="453.05" y="112.13" width="1.90" height="1.90" fill="#234f9e"/>
<polygon points="455.90,112.14 457.13,113.37 455.90,114.61 454.66,113.37" fill="#234f9e"/>
<rect x="447.35" y="113.45" width="1.90" height="1.90" fill="#c0122e"/>
<polygon points="477.00,72.05 477.88,73.81 476.12,73.81" fill="#5e2a85"/>
<rect x="476.20" y="75.16" width="1.60" height="1.60" fill="#5e2a85"/>
<rect x="476.20" y="80.19" width="1.60" height="1.60" fill="#5e2a85"/>
<polygon points="477.00,90.16 477.88,91.92 476.12,91.92" fill="#5e2a85"/>
<rect x="476.20" y="95.47" width="1.60" height="1.60" fill="#5e2a85"/>
<rect x="476.20" y="98.97" width="1.60" height="1.60" fill="#5e2a85"/>
<polygon points="477.00,101.40 477.88,103.16 476.12,103.16" fill="#5e2a85"/>
<rect x="478.10" y="103.44" width="1.60" height="1.60" fill="#5e2a85"/>
<rect x="476.20" y="104.78" width="1.60" height="1.60" fill="#5e2a85"/>
<polygon points="475.10,105.12 475.98,106.88 474.22,106.88" fill="#5e2a85"/>
<rect x="478.10" y="106.18" width="1.60" height="1.60" fill="#5e2a85"/>
<rect x="476.20" y="106.94" width="1.60" height="1.60" fill="#5e2a85"/>
<polygon points="473.20,107.09 474.08,108.85 472.32,108.85" fill="#5e2a85"/>
<rect x="474.30" y="108.29" width="1.60" height="1.60" fill="#5e2a85"/>
<rect x="478.10" y="108.84" width="1.60" height="1.60" fill="#5e2a85"/>
<polygon points="477.00,109.42 477.88,111.18 476.12,111.18" fill="#5e2a85"/>
<rect x="472.40" y="110.05" width="1.60" height="1.60" fill="#5e2a85"/>
<rect x="480.00" y="109.96" width="1.60" height="1.60" fill="#5e2a85"/>
<polygon points="475.10,110.57 475.98,112.33 474.22,112.33" fill="#5e2a85"/>
<rect x="478.10" y="110.94" width="1.60" height="1.60" fill="#5e2a85"/>
<rect x="481.90" y="111.36" width="1.60" height="1.60" fill="#5e2a85"/>
<polygon points="471.30,111.07 472.18,112.83 470.42,112.83" fill="#5e2a85"/>
<rect x="476.20" y="112.03" width="1.60" height="1.60" fill="#5e2a85"/>
<rect x="472.40" y="112.19" width="1.60" height="1.60" fill="#5e2a85"/>
<polygon points="480.80,112.40 481.68,114.16 479.92,114.16" fill="#5e2a85"/>
<rect x="474.30" y="112.98" width="1.60" height="1.60" fill="#5e2a85"/>
<rect x="477.71" y="112.96" width="1.60" height="1.60" fill="#5e2a85"/>
<polygon points="477.86,112.81 478.74,114.57 476.98,114.57" fill="#5e2a85"/>
<rect x="471.67" y="112.89" width="1.60" height="1.60" fill="#5e2a85"/>
<rect x="482.41" y="113.38" width="1.60" height="1.60" fill="#5e2a85"/>
<line x1="424.95" y1="113.25" x2="439.45" y2="113.25" stroke="#111" stroke-width="1.55"/>
<line x1="432.20" y1="113.59" x2="432.20" y2="112.92" stroke="#111" stroke-width="1.2"/>
<line x1="428.20" y1="113.59" x2="436.20" y2="113.59" stroke="#111" stroke-width="1.3"/>
<line x1="428.20" y1="112.92" x2="436.20" y2="112.92" stroke="#111" stroke-width="1.3"/>
<line x1="446.75" y1="108.27" x2="461.25" y2="108.27" stroke="#111" stroke-width="1.55"/>
<line x1="454.00" y1="109.93" x2="454.00" y2="106.61" stroke="#111" stroke-width="1.2"/>
<line x1="450.00" y1="109.93" x2="458.00" y2="109.93" stroke="#111" stroke-width="1.3"/>
<line x1="450.00" y1="106.61" x2="458.00" y2="106.61" stroke="#111" stroke-width="1.3"/>
<line x1="469.75" y1="106.94" x2="484.25" y2="106.94" stroke="#111" stroke-width="1.55"/>
<line x1="477.00" y1="108.60" x2="477.00" y2="105.28" stroke="#111" stroke-width="1.2"/>
<line x1="473.00" y1="108.60" x2="481.00" y2="108.60" stroke="#111" stroke-width="1.3"/>
<line x1="473.00" y1="105.28" x2="481.00" y2="105.28" stroke="#111" stroke-width="1.3"/>
<text x="83.30" y="142.87" font-size="6.6" text-anchor="middle" fill="#262626" textLength="53.41" lengthAdjust="spacingAndGlyphs">CD8+ T cells: LAG3</text>
<text x="83.90" y="150.35" font-size="7.6" text-anchor="middle" fill="#111" textLength="5.40" lengthAdjust="spacingAndGlyphs">**</text>
<path d="M61.50,151.70 V148.50 H106.30 V151.70" fill="none" stroke="#111" stroke-width="1.1"/>
<path d="M61.50,157.40 V154.50 H106.30 V157.40 M83.30,154.50 V157.40" fill="none" stroke="#111" stroke-width="1.1"/>
<rect x="82.40" y="155.10" width="1.80" height="2.20" fill="#111"/>
<text x="72.40" y="153.69" font-size="5.2" text-anchor="middle" fill="#262626">ns</text>
<text x="94.80" y="155.85" font-size="7.6" text-anchor="middle" fill="#111" textLength="2.70" lengthAdjust="spacingAndGlyphs">*</text>
<line x1="46.30" y1="156.40" x2="46.30" y2="212.60" stroke="#111" stroke-width="1.45"/>
<line x1="45.70" y1="212.00" x2="120.80" y2="212.00" stroke="#111" stroke-width="1.45"/>
<line x1="43.70" y1="158.90" x2="46.30" y2="158.90" stroke="#111" stroke-width="1.0"/>
<text x="41.70" y="160.96" font-size="6.0" text-anchor="end" fill="#262626">100</text>
<line x1="43.70" y1="185.45" x2="46.30" y2="185.45" stroke="#111" stroke-width="1.0"/>
<text x="41.70" y="187.51" font-size="6.0" text-anchor="end" fill="#262626">50</text>
<line x1="43.70" y1="212.00" x2="46.30" y2="212.00" stroke="#111" stroke-width="1.0"/>
<text x="41.70" y="214.06" font-size="6.0" text-anchor="end" fill="#262626">0</text>
<line x1="61.50" y1="212.00" x2="61.50" y2="214.20" stroke="#111" stroke-width="1.0"/>
<text x="61.50" y="222.66" font-size="6.0" text-anchor="middle" fill="#262626" textLength="15.28" lengthAdjust="spacingAndGlyphs">CTRL</text>
<line x1="83.30" y1="212.00" x2="83.30" y2="214.20" stroke="#111" stroke-width="1.0"/>
<text x="83.30" y="222.66" font-size="6.0" text-anchor="middle" fill="#262626" textLength="12.68" lengthAdjust="spacingAndGlyphs">REG</text>
<line x1="106.30" y1="212.00" x2="106.30" y2="214.20" stroke="#111" stroke-width="1.0"/>
<text x="106.30" y="222.66" font-size="6.0" text-anchor="middle" fill="#262626" textLength="17.88" lengthAdjust="spacingAndGlyphs">INDOL</text>
<text x="15.70" y="184.40" font-size="8.9" text-anchor="middle" fill="#262626" textLength="51.39" lengthAdjust="spacingAndGlyphs" transform="rotate(-90 15.70 184.40)">% LAG3 positive;</text>
<text x="25.90" y="184.40" font-size="8.9" text-anchor="middle" fill="#262626" textLength="37.86" lengthAdjust="spacingAndGlyphs" transform="rotate(-90 25.90 184.40)">CD3+ CD8+</text>
<rect x="66.25" y="210.72" width="1.90" height="1.90" fill="#5b2a7e"/>
<rect x="54.85" y="210.47" width="1.90" height="1.90" fill="#5b2a7e"/>
<rect x="58.65" y="210.84" width="1.90" height="1.90" fill="#5b2a7e"/>
<rect x="60.55" y="210.89" width="1.90" height="1.90" fill="#5b2a7e"/>
<rect x="56.75" y="210.71" width="1.90" height="1.90" fill="#5b2a7e"/>
<polygon points="79.50,188.61 80.73,189.84 79.50,191.08 78.27,189.84" fill="#c0122e"/>
<rect x="82.35" y="190.75" width="1.90" height="1.90" fill="#c0122e"/>
<polygon points="87.10,192.22 88.33,193.45 87.10,194.69 85.86,193.45" fill="#c0122e"/>
<rect x="84.25" y="195.02" width="1.90" height="1.90" fill="#234f9e"/>
<polygon points="83.30,196.55 84.53,197.79 83.30,199.02 82.06,197.79" fill="#234f9e"/>
<rect x="88.05" y="198.50" width="1.90" height="1.90" fill="#c0122e"/>
<polygon points="83.30,199.65 84.53,200.88 83.30,202.12 82.06,200.88" fill="#c0122e"/>
<rect x="76.65" y="201.01" width="1.90" height="1.90" fill="#c0122e"/>
<polygon points="89.00,201.84 90.23,203.08 89.00,204.31 87.77,203.08" fill="#234f9e"/>
<rect x="82.35" y="203.32" width="1.90" height="1.90" fill="#234f9e"/>
<polygon points="81.40,203.74 82.63,204.97 81.40,206.21 80.16,204.97" fill="#c0122e"/>
<rect x="84.25" y="205.08" width="1.90" height="1.90" fill="#c0122e"/>
<polygon points="83.30,205.84 84.53,207.07 83.30,208.31 82.06,207.07" fill="#c0122e"/>
<rect x="76.65" y="207.65" width="1.90" height="1.90" fill="#234f9e"/>
<polygon points="87.10,208.76 88.33,210.00 87.10,211.23 85.86,210.00" fill="#234f9e"/>
<rect x="78.55" y="209.34" width="1.90" height="1.90" fill="#c0122e"/>
<polygon points="106.30,163.17 107.18,164.93 105.42,164.93" fill="#5e2a85"/>
<rect x="105.50" y="167.54" width="1.60" height="1.60" fill="#5e2a85"/>
<rect x="105.50" y="169.89" width="1.60" height="1.60" fill="#5e2a85"/>
<polygon points="108.20,171.44 109.08,173.20 107.32,173.20" fill="#5e2a85"/>
<rect x="105.50" y="172.04" width="1.60" height="1.60" fill="#5e2a85"/>
<rect x="103.60" y="172.73" width="1.60" height="1.60" fill="#5e2a85"/>
<polygon points="110.10,173.29 110.98,175.05 109.22,175.05" fill="#5e2a85"/>
<rect x="101.70" y="173.66" width="1.60" height="1.60" fill="#5e2a85"/>
<rect x="105.50" y="174.17" width="1.60" height="1.60" fill="#5e2a85"/>
<polygon points="108.20,174.62 109.08,176.38 107.32,176.38" fill="#5e2a85"/>
<rect x="105.50" y="176.27" width="1.60" height="1.60" fill="#5e2a85"/>
<rect x="103.60" y="177.56" width="1.60" height="1.60" fill="#5e2a85"/>
<polygon points="106.30,179.21 107.18,180.97 105.42,180.97" fill="#5e2a85"/>
<rect x="105.50" y="181.81" width="1.60" height="1.60" fill="#5e2a85"/>
<rect x="107.40" y="182.16" width="1.60" height="1.60" fill="#5e2a85"/>
<polygon points="104.40,182.87 105.28,184.63 103.52,184.63" fill="#5e2a85"/>
<rect x="109.30" y="183.37" width="1.60" height="1.60" fill="#5e2a85"/>
<rect x="105.50" y="184.80" width="1.60" height="1.60" fill="#5e2a85"/>
<polygon points="106.30,190.47 107.18,192.23 105.42,192.23" fill="#5e2a85"/>
<rect x="107.40" y="190.69" width="1.60" height="1.60" fill="#5e2a85"/>
<rect x="105.50" y="192.82" width="1.60" height="1.60" fill="#5e2a85"/>
<polygon points="108.20,192.83 109.08,194.59 107.32,194.59" fill="#5e2a85"/>
<rect x="103.60" y="193.36" width="1.60" height="1.60" fill="#5e2a85"/>
<rect x="105.50" y="195.49" width="1.60" height="1.60" fill="#5e2a85"/>
<polygon points="104.40,196.16 105.28,197.92 103.52,197.92" fill="#5e2a85"/>
<rect x="107.40" y="196.44" width="1.60" height="1.60" fill="#5e2a85"/>
<rect x="109.30" y="197.25" width="1.60" height="1.60" fill="#5e2a85"/>
<polygon points="102.50,197.23 103.38,198.99 101.62,198.99" fill="#5e2a85"/>
<rect x="99.80" y="197.50" width="1.60" height="1.60" fill="#5e2a85"/>
<rect x="105.50" y="198.85" width="1.60" height="1.60" fill="#5e2a85"/>
<polygon points="108.20,199.49 109.08,201.25 107.32,201.25" fill="#5e2a85"/>
<rect x="103.60" y="199.78" width="1.60" height="1.60" fill="#5e2a85"/>
<rect x="105.50" y="202.06" width="1.60" height="1.60" fill="#5e2a85"/>
<polygon points="104.40,203.77 105.28,205.53 103.52,205.53" fill="#5e2a85"/>
<rect x="105.50" y="204.54" width="1.60" height="1.60" fill="#5e2a85"/>
<rect x="107.40" y="205.78" width="1.60" height="1.60" fill="#5e2a85"/>
<polygon points="106.30,206.92 107.18,208.68 105.42,208.68" fill="#5e2a85"/>
<rect x="103.60" y="207.71" width="1.60" height="1.60" fill="#5e2a85"/>
<rect x="107.40" y="208.15" width="1.60" height="1.60" fill="#5e2a85"/>
<polygon points="110.10,208.50 110.98,210.26 109.22,210.26" fill="#5e2a85"/>
<line x1="76.05" y1="202.44" x2="90.55" y2="202.44" stroke="#111" stroke-width="1.55"/>
<line x1="83.30" y1="204.03" x2="83.30" y2="200.85" stroke="#111" stroke-width="1.2"/>
<line x1="79.30" y1="204.03" x2="87.30" y2="204.03" stroke="#111" stroke-width="1.3"/>
<line x1="79.30" y1="200.85" x2="87.30" y2="200.85" stroke="#111" stroke-width="1.3"/>
<line x1="99.05" y1="193.95" x2="113.55" y2="193.95" stroke="#111" stroke-width="1.55"/>
<line x1="106.30" y1="195.54" x2="106.30" y2="192.35" stroke="#111" stroke-width="1.2"/>
<line x1="102.30" y1="195.54" x2="110.30" y2="195.54" stroke="#111" stroke-width="1.3"/>
<line x1="102.30" y1="192.35" x2="110.30" y2="192.35" stroke="#111" stroke-width="1.3"/>
<text x="207.00" y="142.87" font-size="6.6" text-anchor="middle" fill="#262626" textLength="56.77" lengthAdjust="spacingAndGlyphs">CD8+ T cells: CTLA4</text>
<text x="207.60" y="148.19" font-size="5.2" text-anchor="middle" fill="#262626">ns</text>
<path d="M185.20,151.70 V148.50 H230.00 V151.70" fill="none" stroke="#111" stroke-width="1.1"/>
<path d="M185.20,157.40 V154.50 H230.00 V157.40 M207.00,154.50 V157.40" fill="none" stroke="#111" stroke-width="1.1"/>
<rect x="206.10" y="155.10" width="1.80" height="2.20" fill="#111"/>
<text x="196.10" y="153.69" font-size="5.2" text-anchor="middle" fill="#262626">ns</text>
<text x="218.50" y="153.69" font-size="5.2" text-anchor="middle" fill="#262626">ns</text>
<line x1="170.00" y1="156.40" x2="170.00" y2="212.60" stroke="#111" stroke-width="1.45"/>
<line x1="169.40" y1="212.00" x2="244.50" y2="212.00" stroke="#111" stroke-width="1.45"/>
<line x1="167.40" y1="158.90" x2="170.00" y2="158.90" stroke="#111" stroke-width="1.0"/>
<text x="165.40" y="160.96" font-size="6.0" text-anchor="end" fill="#262626">100</text>
<line x1="167.40" y1="185.45" x2="170.00" y2="185.45" stroke="#111" stroke-width="1.0"/>
<text x="165.40" y="187.51" font-size="6.0" text-anchor="end" fill="#262626">50</text>
<line x1="167.40" y1="212.00" x2="170.00" y2="212.00" stroke="#111" stroke-width="1.0"/>
<text x="165.40" y="214.06" font-size="6.0" text-anchor="end" fill="#262626">0</text>
<line x1="185.20" y1="212.00" x2="185.20" y2="214.20" stroke="#111" stroke-width="1.0"/>
<text x="185.20" y="222.66" font-size="6.0" text-anchor="middle" fill="#262626" textLength="15.28" lengthAdjust="spacingAndGlyphs">CTRL</text>
<line x1="207.00" y1="212.00" x2="207.00" y2="214.20" stroke="#111" stroke-width="1.0"/>
<text x="207.00" y="222.66" font-size="6.0" text-anchor="middle" fill="#262626" textLength="12.68" lengthAdjust="spacingAndGlyphs">REG</text>
<line x1="230.00" y1="212.00" x2="230.00" y2="214.20" stroke="#111" stroke-width="1.0"/>
<text x="230.00" y="222.66" font-size="6.0" text-anchor="middle" fill="#262626" textLength="17.88" lengthAdjust="spacingAndGlyphs">INDOL</text>
<text x="139.40" y="184.40" font-size="8.9" text-anchor="middle" fill="#262626" textLength="55.11" lengthAdjust="spacingAndGlyphs" transform="rotate(-90 139.40 184.40)">% CTLA4 positive;</text>
<text x="149.60" y="184.40" font-size="8.9" text-anchor="middle" fill="#262626" textLength="37.86" lengthAdjust="spacingAndGlyphs" transform="rotate(-90 149.60 184.40)">CD3+ CD8+</text>
<rect x="186.15" y="208.38" width="1.90" height="1.90" fill="#5b2a7e"/>
<rect x="188.05" y="209.38" width="1.90" height="1.90" fill="#5b2a7e"/>
<rect x="180.45" y="209.82" width="1.90" height="1.90" fill="#5b2a7e"/>
<rect x="184.25" y="210.32" width="1.90" height="1.90" fill="#5b2a7e"/>
<rect x="186.15" y="210.82" width="1.90" height="1.90" fill="#5b2a7e"/>
<rect x="178.55" y="211.16" width="1.90" height="1.90" fill="#5b2a7e"/>
<polygon points="205.10,202.73 206.34,203.96 205.10,205.20 203.86,203.96" fill="#c0122e"/>
<rect x="207.95" y="204.08" width="1.90" height="1.90" fill="#c0122e"/>
<polygon points="203.20,204.61 204.44,205.85 203.20,207.08 201.96,205.85" fill="#c0122e"/>
<rect x="200.35" y="205.22" width="1.90" height="1.90" fill="#234f9e"/>
<polygon points="210.80,205.42 212.04,206.66 210.80,207.89 209.56,206.66" fill="#234f9e"/>
<rect x="206.05" y="206.27" width="1.90" height="1.90" fill="#c0122e"/>
<polygon points="212.70,206.75 213.94,207.99 212.70,209.22 211.46,207.99" fill="#c0122e"/>
<rect x="207.95" y="207.03" width="1.90" height="1.90" fill="#c0122e"/>
<polygon points="205.10,206.87 206.34,208.11 205.10,209.34 203.86,208.11" fill="#234f9e"/>
<rect x="200.35" y="207.67" width="1.90" height="1.90" fill="#234f9e"/>
<polygon points="210.80,208.06 212.04,209.29 210.80,210.53 209.56,209.29" fill="#c0122e"/>
<rect x="202.25" y="208.75" width="1.90" height="1.90" fill="#c0122e"/>
<polygon points="207.00,209.34 208.24,210.58 207.00,211.81 205.76,210.58" fill="#c0122e"/>
<rect x="200.35" y="210.06" width="1.90" height="1.90" fill="#234f9e"/>
<polygon points="230.00,164.42 230.88,166.18 229.12,166.18" fill="#5e2a85"/>
<rect x="229.20" y="174.97" width="1.60" height="1.60" fill="#5e2a85"/>
<rect x="229.20" y="178.26" width="1.60" height="1.60" fill="#5e2a85"/>
<polygon points="230.00,181.79 230.88,183.55 229.12,183.55" fill="#5e2a85"/>
<rect x="229.20" y="184.87" width="1.60" height="1.60" fill="#5e2a85"/>
<rect x="229.20" y="187.38" width="1.60" height="1.60" fill="#5e2a85"/>
<polygon points="230.00,189.74 230.88,191.50 229.12,191.50" fill="#5e2a85"/>
<rect x="229.20" y="192.85" width="1.60" height="1.60" fill="#5e2a85"/>
<rect x="229.20" y="195.29" width="1.60" height="1.60" fill="#5e2a85"/>
<polygon points="231.90,196.84 232.78,198.60 231.02,198.60" fill="#5e2a85"/>
<rect x="229.20" y="198.47" width="1.60" height="1.60" fill="#5e2a85"/>
<rect x="229.20" y="200.62" width="1.60" height="1.60" fill="#5e2a85"/>
<polygon points="231.90,201.59 232.78,203.35 231.02,203.35" fill="#5e2a85"/>
<rect x="229.20" y="203.30" width="1.60" height="1.60" fill="#5e2a85"/>
<rect x="227.30" y="204.31" width="1.60" height="1.60" fill="#5e2a85"/>
<polygon points="230.00,205.42 230.88,207.18 229.12,207.18" fill="#5e2a85"/>
<rect x="231.10" y="205.98" width="1.60" height="1.60" fill="#5e2a85"/>
<rect x="227.30" y="206.55" width="1.60" height="1.60" fill="#5e2a85"/>
<polygon points="226.20,207.03 227.08,208.79 225.32,208.79" fill="#5e2a85"/>
<rect x="233.00" y="207.26" width="1.60" height="1.60" fill="#5e2a85"/>
<rect x="229.20" y="207.96" width="1.60" height="1.60" fill="#5e2a85"/>
<polygon points="231.90,208.34 232.78,210.10 231.02,210.10" fill="#5e2a85"/>
<rect x="227.30" y="208.91" width="1.60" height="1.60" fill="#5e2a85"/>
<rect x="223.50" y="208.96" width="1.60" height="1.60" fill="#5e2a85"/>
<polygon points="233.80,209.30 234.68,211.06 232.92,211.06" fill="#5e2a85"/>
<rect x="225.40" y="209.62" width="1.60" height="1.60" fill="#5e2a85"/>
<rect x="234.90" y="210.02" width="1.60" height="1.60" fill="#5e2a85"/>
<polygon points="233.65,209.83 234.53,211.59 232.77,211.59" fill="#5e2a85"/>
<rect x="229.20" y="210.56" width="1.60" height="1.60" fill="#5e2a85"/>
<rect x="225.58" y="210.65" width="1.60" height="1.60" fill="#5e2a85"/>
<line x1="177.95" y1="210.94" x2="192.45" y2="210.94" stroke="#111" stroke-width="1.55"/>
<line x1="185.20" y1="211.36" x2="185.20" y2="210.51" stroke="#111" stroke-width="1.2"/>
<line x1="181.20" y1="211.36" x2="189.20" y2="211.36" stroke="#111" stroke-width="1.3"/>
<line x1="181.20" y1="210.51" x2="189.20" y2="210.51" stroke="#111" stroke-width="1.3"/>
<line x1="199.75" y1="207.75" x2="214.25" y2="207.75" stroke="#111" stroke-width="1.55"/>
<line x1="207.00" y1="208.44" x2="207.00" y2="207.06" stroke="#111" stroke-width="1.2"/>
<line x1="203.00" y1="208.44" x2="211.00" y2="208.44" stroke="#111" stroke-width="1.3"/>
<line x1="203.00" y1="207.06" x2="211.00" y2="207.06" stroke="#111" stroke-width="1.3"/>
<line x1="222.75" y1="201.38" x2="237.25" y2="201.38" stroke="#111" stroke-width="1.55"/>
<line x1="230.00" y1="203.50" x2="230.00" y2="199.26" stroke="#111" stroke-width="1.2"/>
<line x1="226.00" y1="203.50" x2="234.00" y2="203.50" stroke="#111" stroke-width="1.3"/>
<line x1="226.00" y1="199.26" x2="234.00" y2="199.26" stroke="#111" stroke-width="1.3"/>
<text x="330.60" y="142.87" font-size="6.6" text-anchor="middle" fill="#262626" textLength="53.41" lengthAdjust="spacingAndGlyphs">CD4+ T cells: LAG3</text>
<text x="331.20" y="148.19" font-size="5.2" text-anchor="middle" fill="#262626">ns</text>
<path d="M308.80,151.70 V148.50 H353.60 V151.70" fill="none" stroke="#111" stroke-width="1.1"/>
<path d="M308.80,157.40 V154.50 H353.60 V157.40 M330.60,154.50 V157.40" fill="none" stroke="#111" stroke-width="1.1"/>
<rect x="329.70" y="155.10" width="1.80" height="2.20" fill="#111"/>
<text x="319.70" y="153.69" font-size="5.2" text-anchor="middle" fill="#262626">ns</text>
<text x="342.10" y="153.69" font-size="5.2" text-anchor="middle" fill="#262626">ns</text>
<line x1="293.60" y1="156.40" x2="293.60" y2="212.60" stroke="#111" stroke-width="1.45"/>
<line x1="293.00" y1="212.00" x2="368.10" y2="212.00" stroke="#111" stroke-width="1.45"/>
<line x1="291.00" y1="158.90" x2="293.60" y2="158.90" stroke="#111" stroke-width="1.0"/>
<text x="289.00" y="160.96" font-size="6.0" text-anchor="end" fill="#262626">40</text>
<line x1="291.00" y1="172.18" x2="293.60" y2="172.18" stroke="#111" stroke-width="1.0"/>
<text x="289.00" y="174.24" font-size="6.0" text-anchor="end" fill="#262626">30</text>
<line x1="291.00" y1="185.45" x2="293.60" y2="185.45" stroke="#111" stroke-width="1.0"/>
<text x="289.00" y="187.51" font-size="6.0" text-anchor="end" fill="#262626">20</text>
<line x1="291.00" y1="198.72" x2="293.60" y2="198.72" stroke="#111" stroke-width="1.0"/>
<text x="289.00" y="200.79" font-size="6.0" text-anchor="end" fill="#262626">10</text>
<line x1="291.00" y1="212.00" x2="293.60" y2="212.00" stroke="#111" stroke-width="1.0"/>
<text x="289.00" y="214.06" font-size="6.0" text-anchor="end" fill="#262626">0</text>
<line x1="308.80" y1="212.00" x2="308.80" y2="214.20" stroke="#111" stroke-width="1.0"/>
<text x="308.80" y="222.66" font-size="6.0" text-anchor="middle" fill="#262626" textLength="15.28" lengthAdjust="spacingAndGlyphs">CTRL</text>
<line x1="330.60" y1="212.00" x2="330.60" y2="214.20" stroke="#111" stroke-width="1.0"/>
<text x="330.60" y="222.66" font-size="6.0" text-anchor="middle" fill="#262626" textLength="12.68" lengthAdjust="spacingAndGlyphs">REG</text>
<line x1="353.60" y1="212.00" x2="353.60" y2="214.20" stroke="#111" stroke-width="1.0"/>
<text x="353.60" y="222.66" font-size="6.0" text-anchor="middle" fill="#262626" textLength="17.88" lengthAdjust="spacingAndGlyphs">INDOL</text>
<text x="266.00" y="184.40" font-size="8.9" text-anchor="middle" fill="#262626" textLength="51.39" lengthAdjust="spacingAndGlyphs" transform="rotate(-90 266.00 184.40)">% LAG3 positive;</text>
<text x="276.20" y="184.40" font-size="8.9" text-anchor="middle" fill="#262626" textLength="37.86" lengthAdjust="spacingAndGlyphs" transform="rotate(-90 276.20 184.40)">CD3+ CD4+</text>
<rect x="305.95" y="211.28" width="1.90" height="1.90" fill="#5b2a7e"/>
<rect x="307.85" y="211.19" width="1.90" height="1.90" fill="#5b2a7e"/>
<rect x="302.15" y="211.29" width="1.90" height="1.90" fill="#5b2a7e"/>
<rect x="304.05" y="210.96" width="1.90" height="1.90" fill="#5b2a7e"/>
<rect x="309.75" y="211.23" width="1.90" height="1.90" fill="#5b2a7e"/>
<polygon points="326.80,201.54 328.04,202.77 326.80,204.01 325.56,202.77" fill="#c0122e"/>
<rect x="335.35" y="202.46" width="1.90" height="1.90" fill="#c0122e"/>
<polygon points="326.80,204.27 328.04,205.51 326.80,206.74 325.56,205.51" fill="#c0122e"/>
<rect x="323.95" y="205.84" width="1.90" height="1.90" fill="#234f9e"/>
<polygon points="332.50,206.65 333.74,207.88 332.50,209.12 331.26,207.88" fill="#234f9e"/>
<rect x="335.35" y="207.83" width="1.90" height="1.90" fill="#c0122e"/>
<polygon points="330.60,208.09 331.84,209.33 330.60,210.56 329.37,209.33" fill="#c0122e"/>
<rect x="323.95" y="208.64" width="1.90" height="1.90" fill="#c0122e"/>
<polygon points="332.50,208.87 333.74,210.10 332.50,211.34 331.26,210.10" fill="#234f9e"/>
<rect x="333.45" y="209.49" width="1.90" height="1.90" fill="#234f9e"/>
<polygon points="328.70,209.36 329.94,210.59 328.70,211.83 327.47,210.59" fill="#c0122e"/>
<rect x="325.85" y="210.26" width="1.90" height="1.90" fill="#c0122e"/>
<polygon points="336.30,210.37 337.54,211.60 336.30,212.84 335.06,211.60" fill="#c0122e"/>
<rect x="329.65" y="210.63" width="1.90" height="1.90" fill="#234f9e"/>
<polygon points="324.90,210.79 326.14,212.02 324.90,213.26 323.67,212.02" fill="#234f9e"/>
<rect x="331.55" y="211.10" width="1.90" height="1.90" fill="#c0122e"/>
<polygon points="353.60,171.31 354.48,173.07 352.72,173.07" fill="#5e2a85"/>
<rect x="352.80" y="180.76" width="1.60" height="1.60" fill="#5e2a85"/>
<rect x="352.80" y="184.73" width="1.60" height="1.60" fill="#5e2a85"/>
<polygon points="353.60,188.60 354.48,190.36 352.72,190.36" fill="#5e2a85"/>
<rect x="352.80" y="191.13" width="1.60" height="1.60" fill="#5e2a85"/>
<rect x="352.80" y="195.41" width="1.60" height="1.60" fill="#5e2a85"/>
<polygon points="353.60,197.84 354.48,199.60 352.72,199.60" fill="#5e2a85"/>
<rect x="352.80" y="200.74" width="1.60" height="1.60" fill="#5e2a85"/>
<rect x="350.90" y="201.94" width="1.60" height="1.60" fill="#5e2a85"/>
<polygon points="353.60,202.98 354.48,204.74 352.72,204.74" fill="#5e2a85"/>
<rect x="354.70" y="203.14" width="1.60" height="1.60" fill="#5e2a85"/>
<rect x="356.60" y="203.97" width="1.60" height="1.60" fill="#5e2a85"/>
<polygon points="351.70,204.18 352.58,205.94 350.82,205.94" fill="#5e2a85"/>
<rect x="349.00" y="204.33" width="1.60" height="1.60" fill="#5e2a85"/>
<rect x="352.80" y="205.38" width="1.60" height="1.60" fill="#5e2a85"/>
<polygon points="355.50,205.94 356.38,207.70 354.62,207.70" fill="#5e2a85"/>
<rect x="347.10" y="205.65" width="1.60" height="1.60" fill="#5e2a85"/>
<rect x="350.90" y="206.60" width="1.60" height="1.60" fill="#5e2a85"/>
<polygon points="349.80,207.30 350.68,209.06 348.92,209.06" fill="#5e2a85"/>
<rect x="356.60" y="207.17" width="1.60" height="1.60" fill="#5e2a85"/>
<rect x="352.80" y="207.95" width="1.60" height="1.60" fill="#5e2a85"/>
<polygon points="355.50,208.21 356.38,209.97 354.62,209.97" fill="#5e2a85"/>
<rect x="358.50" y="208.30" width="1.60" height="1.60" fill="#5e2a85"/>
<rect x="350.90" y="209.02" width="1.60" height="1.60" fill="#5e2a85"/>
<polygon points="357.40,209.51 358.28,211.27 356.52,211.27" fill="#5e2a85"/>
<rect x="352.80" y="210.35" width="1.60" height="1.60" fill="#5e2a85"/>
<rect x="354.70" y="211.04" width="1.60" height="1.60" fill="#5e2a85"/>
<polygon points="351.70,211.16 352.58,212.92 350.82,212.92" fill="#5e2a85"/>
<line x1="323.35" y1="209.34" x2="337.85" y2="209.34" stroke="#111" stroke-width="1.55"/>
<line x1="330.60" y1="210.01" x2="330.60" y2="208.68" stroke="#111" stroke-width="1.2"/>
<line x1="326.60" y1="210.01" x2="334.60" y2="210.01" stroke="#111" stroke-width="1.3"/>
<line x1="326.60" y1="208.68" x2="334.60" y2="208.68" stroke="#111" stroke-width="1.3"/>
<line x1="346.35" y1="204.70" x2="360.85" y2="204.70" stroke="#111" stroke-width="1.55"/>
<line x1="353.60" y1="206.29" x2="353.60" y2="203.11" stroke="#111" stroke-width="1.2"/>
<line x1="349.60" y1="206.29" x2="357.60" y2="206.29" stroke="#111" stroke-width="1.3"/>
<line x1="349.60" y1="203.11" x2="357.60" y2="203.11" stroke="#111" stroke-width="1.3"/>
<text x="454.00" y="142.87" font-size="6.6" text-anchor="middle" fill="#262626" textLength="56.77" lengthAdjust="spacingAndGlyphs">CD4+ T cells: CTLA4</text>
<text x="454.60" y="148.19" font-size="5.2" text-anchor="middle" fill="#262626">ns</text>
<path d="M432.20,151.70 V148.50 H477.00 V151.70" fill="none" stroke="#111" stroke-width="1.1"/>
<path d="M432.20,157.40 V154.50 H477.00 V157.40 M454.00,154.50 V157.40" fill="none" stroke="#111" stroke-width="1.1"/>
<rect x="453.10" y="155.10" width="1.80" height="2.20" fill="#111"/>
<text x="443.10" y="153.69" font-size="5.2" text-anchor="middle" fill="#262626">ns</text>
<text x="465.50" y="153.69" font-size="5.2" text-anchor="middle" fill="#262626">ns</text>
<line x1="417.00" y1="157.80" x2="417.00" y2="167.30" stroke="#111" stroke-width="1.45"/>
<line x1="417.00" y1="174.20" x2="417.00" y2="212.60" stroke="#111" stroke-width="1.45"/>
<line x1="415.30" y1="166.90" x2="418.70" y2="170.10" stroke="#111" stroke-width="1.0"/>
<line x1="415.30" y1="172.50" x2="418.70" y2="175.70" stroke="#111" stroke-width="1.0"/>
<line x1="416.40" y1="212.00" x2="491.50" y2="212.00" stroke="#111" stroke-width="1.45"/>
<line x1="414.40" y1="175.60" x2="417.00" y2="175.60" stroke="#111" stroke-width="1.0"/>
<text x="412.40" y="177.66" font-size="6.0" text-anchor="end" fill="#262626">20</text>
<line x1="414.40" y1="184.70" x2="417.00" y2="184.70" stroke="#111" stroke-width="1.0"/>
<text x="412.40" y="186.76" font-size="6.0" text-anchor="end" fill="#262626">15</text>
<line x1="414.40" y1="193.80" x2="417.00" y2="193.80" stroke="#111" stroke-width="1.0"/>
<text x="412.40" y="195.86" font-size="6.0" text-anchor="end" fill="#262626">10</text>
<line x1="414.40" y1="202.90" x2="417.00" y2="202.90" stroke="#111" stroke-width="1.0"/>
<text x="412.40" y="204.96" font-size="6.0" text-anchor="end" fill="#262626">5</text>
<line x1="414.40" y1="212.00" x2="417.00" y2="212.00" stroke="#111" stroke-width="1.0"/>
<text x="412.40" y="214.06" font-size="6.0" text-anchor="end" fill="#262626">0</text>
<line x1="414.40" y1="160.70" x2="417.00" y2="160.70" stroke="#111" stroke-width="1.0"/>
<text x="412.40" y="162.76" font-size="6.0" text-anchor="end" fill="#262626">100</text>
<line x1="432.20" y1="212.00" x2="432.20" y2="214.20" stroke="#111" stroke-width="1.0"/>
<text x="432.20" y="222.66" font-size="6.0" text-anchor="middle" fill="#262626" textLength="15.28" lengthAdjust="spacingAndGlyphs">CTRL</text>
<line x1="454.00" y1="212.00" x2="454.00" y2="214.20" stroke="#111" stroke-width="1.0"/>
<text x="454.00" y="222.66" font-size="6.0" text-anchor="middle" fill="#262626" textLength="12.68" lengthAdjust="spacingAndGlyphs">REG</text>
<line x1="477.00" y1="212.00" x2="477.00" y2="214.20" stroke="#111" stroke-width="1.0"/>
<text x="477.00" y="222.66" font-size="6.0" text-anchor="middle" fill="#262626" textLength="17.88" lengthAdjust="spacingAndGlyphs">INDOL</text>
<text x="388.70" y="184.40" font-size="8.9" text-anchor="middle" fill="#262626" textLength="55.11" lengthAdjust="spacingAndGlyphs" transform="rotate(-90 388.70 184.40)">% CTLA4 positive;</text>
<text x="398.90" y="184.40" font-size="8.9" text-anchor="middle" fill="#262626" textLength="37.86" lengthAdjust="spacingAndGlyphs" transform="rotate(-90 398.90 184.40)">CD3+ CD4+</text>
<rect x="436.95" y="208.99" width="1.90" height="1.90" fill="#5b2a7e"/>
<rect x="425.55" y="210.07" width="1.90" height="1.90" fill="#5b2a7e"/>
<rect x="429.35" y="210.55" width="1.90" height="1.90" fill="#5b2a7e"/>
<rect x="431.25" y="210.91" width="1.90" height="1.90" fill="#5b2a7e"/>
<rect x="433.15" y="211.01" width="1.90" height="1.90" fill="#5b2a7e"/>
<rect x="436.95" y="211.22" width="1.90" height="1.90" fill="#5b2a7e"/>
<polygon points="459.70,202.11 460.94,203.34 459.70,204.58 458.46,203.34" fill="#c0122e"/>
<rect x="449.25" y="202.49" width="1.90" height="1.90" fill="#c0122e"/>
<polygon points="455.90,202.95 457.13,204.19 455.90,205.42 454.66,204.19" fill="#c0122e"/>
<rect x="456.85" y="204.14" width="1.90" height="1.90" fill="#234f9e"/>
<polygon points="450.20,204.33 451.44,205.57 450.20,206.80 448.96,205.57" fill="#234f9e"/>
<rect x="458.75" y="204.66" width="1.90" height="1.90" fill="#c0122e"/>
<polygon points="448.30,204.59 449.54,205.82 448.30,207.06 447.06,205.82" fill="#c0122e"/>
<rect x="453.05" y="204.56" width="1.90" height="1.90" fill="#c0122e"/>
<polygon points="452.10,205.04 453.34,206.27 452.10,207.51 450.87,206.27" fill="#234f9e"/>
<rect x="447.35" y="207.05" width="1.90" height="1.90" fill="#234f9e"/>
<polygon points="454.00,208.07 455.24,209.31 454.00,210.54 452.76,209.31" fill="#c0122e"/>
<rect x="451.15" y="209.68" width="1.90" height="1.90" fill="#c0122e"/>
<polygon points="455.90,209.55 457.13,210.78 455.90,212.02 454.66,210.78" fill="#c0122e"/>
<rect x="447.35" y="210.29" width="1.90" height="1.90" fill="#234f9e"/>
<polygon points="477.00,161.92 477.88,163.68 476.12,163.68" fill="#5e2a85"/>
<rect x="476.20" y="169.27" width="1.60" height="1.60" fill="#5e2a85"/>
<rect x="476.20" y="182.16" width="1.60" height="1.60" fill="#5e2a85"/>
<polygon points="477.00,190.99 477.88,192.75 476.12,192.75" fill="#5e2a85"/>
<rect x="476.20" y="195.05" width="1.60" height="1.60" fill="#5e2a85"/>
<rect x="476.20" y="199.23" width="1.60" height="1.60" fill="#5e2a85"/>
<polygon points="477.00,203.64 477.88,205.40 476.12,205.40" fill="#5e2a85"/>
<rect x="476.20" y="207.40" width="1.60" height="1.60" fill="#5e2a85"/>
<rect x="474.30" y="208.09" width="1.60" height="1.60" fill="#5e2a85"/>
<polygon points="478.90,208.45 479.78,210.21 478.02,210.21" fill="#5e2a85"/>
<rect x="480.00" y="209.09" width="1.60" height="1.60" fill="#5e2a85"/>
<rect x="472.40" y="209.16" width="1.60" height="1.60" fill="#5e2a85"/>
<polygon points="477.00,209.71 477.88,211.47 476.12,211.47" fill="#5e2a85"/>
<rect x="474.30" y="210.20" width="1.60" height="1.60" fill="#5e2a85"/>
<rect x="481.90" y="210.34" width="1.60" height="1.60" fill="#5e2a85"/>
<polygon points="471.30,210.11 472.18,211.87 470.42,211.87" fill="#5e2a85"/>
<rect x="475.95" y="210.53" width="1.60" height="1.60" fill="#5e2a85"/>
<rect x="471.49" y="210.67" width="1.60" height="1.60" fill="#5e2a85"/>
<polygon points="478.90,210.95 479.78,212.71 478.02,212.71" fill="#5e2a85"/>
<rect x="480.00" y="211.31" width="1.60" height="1.60" fill="#5e2a85"/>
<rect x="472.51" y="210.97" width="1.60" height="1.60" fill="#5e2a85"/>
<line x1="424.95" y1="211.45" x2="439.45" y2="211.45" stroke="#111" stroke-width="1.55"/>
<line x1="432.20" y1="211.82" x2="432.20" y2="211.09" stroke="#111" stroke-width="1.2"/>
<line x1="428.20" y1="211.82" x2="436.20" y2="211.82" stroke="#111" stroke-width="1.3"/>
<line x1="428.20" y1="211.09" x2="436.20" y2="211.09" stroke="#111" stroke-width="1.3"/>
<line x1="446.75" y1="207.81" x2="461.25" y2="207.81" stroke="#111" stroke-width="1.55"/>
<line x1="454.00" y1="208.54" x2="454.00" y2="207.09" stroke="#111" stroke-width="1.2"/>
<line x1="450.00" y1="208.54" x2="458.00" y2="208.54" stroke="#111" stroke-width="1.3"/>
<line x1="450.00" y1="207.09" x2="458.00" y2="207.09" stroke="#111" stroke-width="1.3"/>
<line x1="469.75" y1="199.26" x2="484.25" y2="199.26" stroke="#111" stroke-width="1.55"/>
<line x1="477.00" y1="204.17" x2="477.00" y2="194.35" stroke="#111" stroke-width="1.2"/>
<line x1="473.00" y1="204.17" x2="481.00" y2="204.17" stroke="#111" stroke-width="1.3"/>
<line x1="473.00" y1="194.35" x2="481.00" y2="194.35" stroke="#111" stroke-width="1.3"/>
<text x="83.30" y="240.87" font-size="6.6" text-anchor="middle" fill="#262626" textLength="56.77" lengthAdjust="spacingAndGlyphs">CD8+ T cells: CD160</text>
<text x="83.90" y="248.35" font-size="7.6" text-anchor="middle" fill="#111" textLength="2.70" lengthAdjust="spacingAndGlyphs">*</text>
<path d="M61.50,249.70 V246.50 H106.30 V249.70" fill="none" stroke="#111" stroke-width="1.1"/>
<path d="M61.50,255.40 V252.50 H106.30 V255.40 M83.30,252.50 V255.40" fill="none" stroke="#111" stroke-width="1.1"/>
<rect x="82.40" y="253.10" width="1.80" height="2.20" fill="#111"/>
<text x="72.40" y="251.69" font-size="5.2" text-anchor="middle" fill="#262626">ns</text>
<text x="94.80" y="253.85" font-size="7.6" text-anchor="middle" fill="#111" textLength="2.70" lengthAdjust="spacingAndGlyphs">*</text>
<line x1="46.30" y1="254.20" x2="46.30" y2="310.35" stroke="#111" stroke-width="1.45"/>
<line x1="45.70" y1="309.75" x2="120.80" y2="309.75" stroke="#111" stroke-width="1.45"/>
<line x1="43.70" y1="256.70" x2="46.30" y2="256.70" stroke="#111" stroke-width="1.0"/>
<text x="41.70" y="258.76" font-size="6.0" text-anchor="end" fill="#262626">100</text>
<line x1="43.70" y1="283.23" x2="46.30" y2="283.23" stroke="#111" stroke-width="1.0"/>
<text x="41.70" y="285.29" font-size="6.0" text-anchor="end" fill="#262626">50</text>
<line x1="43.70" y1="309.75" x2="46.30" y2="309.75" stroke="#111" stroke-width="1.0"/>
<text x="41.70" y="311.81" font-size="6.0" text-anchor="end" fill="#262626">0</text>
<line x1="61.50" y1="309.75" x2="61.50" y2="311.95" stroke="#111" stroke-width="1.0"/>
<text x="61.50" y="320.46" font-size="6.0" text-anchor="middle" fill="#262626" textLength="15.28" lengthAdjust="spacingAndGlyphs">CTRL</text>
<line x1="83.30" y1="309.75" x2="83.30" y2="311.95" stroke="#111" stroke-width="1.0"/>
<text x="83.30" y="320.46" font-size="6.0" text-anchor="middle" fill="#262626" textLength="12.68" lengthAdjust="spacingAndGlyphs">REG</text>
<line x1="106.30" y1="309.75" x2="106.30" y2="311.95" stroke="#111" stroke-width="1.0"/>
<text x="106.30" y="320.46" font-size="6.0" text-anchor="middle" fill="#262626" textLength="17.88" lengthAdjust="spacingAndGlyphs">INDOL</text>
<text x="15.70" y="282.15" font-size="8.9" text-anchor="middle" fill="#262626" textLength="55.11" lengthAdjust="spacingAndGlyphs" transform="rotate(-90 15.70 282.15)">% CD160 positive;</text>
<text x="25.90" y="282.15" font-size="8.9" text-anchor="middle" fill="#262626" textLength="37.86" lengthAdjust="spacingAndGlyphs" transform="rotate(-90 25.90 282.15)">CD3+ CD8+</text>
<rect x="58.65" y="308.49" width="1.90" height="1.90" fill="#5b2a7e"/>
<rect x="54.85" y="308.44" width="1.90" height="1.90" fill="#5b2a7e"/>
<rect x="62.45" y="308.36" width="1.90" height="1.90" fill="#5b2a7e"/>
<rect x="56.75" y="308.52" width="1.90" height="1.90" fill="#5b2a7e"/>
<rect x="64.35" y="308.57" width="1.90" height="1.90" fill="#5b2a7e"/>
<polygon points="89.00,296.91 90.23,298.14 89.00,299.38 87.77,298.14" fill="#c0122e"/>
<rect x="76.65" y="298.32" width="1.90" height="1.90" fill="#c0122e"/>
<polygon points="87.10,298.86 88.33,300.10 87.10,301.33 85.86,300.10" fill="#c0122e"/>
<rect x="76.65" y="300.81" width="1.90" height="1.90" fill="#234f9e"/>
<polygon points="89.00,301.99 90.23,303.23 89.00,304.46 87.77,303.23" fill="#234f9e"/>
<rect x="84.25" y="302.98" width="1.90" height="1.90" fill="#c0122e"/>
<polygon points="77.60,303.34 78.83,304.58 77.60,305.81 76.36,304.58" fill="#c0122e"/>
<rect x="78.55" y="303.28" width="1.90" height="1.90" fill="#c0122e"/>
<polygon points="81.40,303.91 82.63,305.15 81.40,306.38 80.16,305.15" fill="#234f9e"/>
<rect x="88.05" y="304.74" width="1.90" height="1.90" fill="#234f9e"/>
<polygon points="85.20,304.84 86.44,306.07 85.20,307.31 83.97,306.07" fill="#c0122e"/>
<rect x="78.55" y="305.72" width="1.90" height="1.90" fill="#c0122e"/>
<polygon points="77.60,306.09 78.83,307.32 77.60,308.56 76.36,307.32" fill="#c0122e"/>
<rect x="86.15" y="306.91" width="1.90" height="1.90" fill="#234f9e"/>
<polygon points="83.30,306.68 84.53,307.92 83.30,309.15 82.06,307.92" fill="#234f9e"/>
<polygon points="106.30,256.81 107.18,258.57 105.42,258.57" fill="#5e2a85"/>
<rect x="107.40" y="257.82" width="1.60" height="1.60" fill="#5e2a85"/>
<rect x="105.50" y="271.92" width="1.60" height="1.60" fill="#5e2a85"/>
<polygon points="106.30,281.02 107.18,282.78 105.42,282.78" fill="#5e2a85"/>
<rect x="105.50" y="284.55" width="1.60" height="1.60" fill="#5e2a85"/>
<rect x="103.60" y="286.48" width="1.60" height="1.60" fill="#5e2a85"/>
<polygon points="106.30,288.45 107.18,290.21 105.42,290.21" fill="#5e2a85"/>
<rect x="103.60" y="290.56" width="1.60" height="1.60" fill="#5e2a85"/>
<rect x="105.50" y="292.01" width="1.60" height="1.60" fill="#5e2a85"/>
<polygon points="108.20,292.71 109.08,294.47 107.32,294.47" fill="#5e2a85"/>
<rect x="105.50" y="294.31" width="1.60" height="1.60" fill="#5e2a85"/>
<rect x="107.40" y="295.12" width="1.60" height="1.60" fill="#5e2a85"/>
<polygon points="104.40,295.54 105.28,297.30 103.52,297.30" fill="#5e2a85"/>
<rect x="105.50" y="296.44" width="1.60" height="1.60" fill="#5e2a85"/>
<rect x="101.70" y="297.20" width="1.60" height="1.60" fill="#5e2a85"/>
<polygon points="108.20,297.57 109.08,299.33 107.32,299.33" fill="#5e2a85"/>
<rect x="105.50" y="298.58" width="1.60" height="1.60" fill="#5e2a85"/>
<rect x="103.60" y="299.08" width="1.60" height="1.60" fill="#5e2a85"/>
<polygon points="102.50,299.41 103.38,301.17 101.62,301.17" fill="#5e2a85"/>
<rect x="107.40" y="299.94" width="1.60" height="1.60" fill="#5e2a85"/>
<rect x="109.30" y="300.68" width="1.60" height="1.60" fill="#5e2a85"/>
<polygon points="106.30,300.79 107.18,302.55 105.42,302.55" fill="#5e2a85"/>
<rect x="103.60" y="301.46" width="1.60" height="1.60" fill="#5e2a85"/>
<rect x="101.70" y="301.84" width="1.60" height="1.60" fill="#5e2a85"/>
<polygon points="108.20,302.43 109.08,304.19 107.32,304.19" fill="#5e2a85"/>
<rect x="109.30" y="302.93" width="1.60" height="1.60" fill="#5e2a85"/>
<rect x="105.50" y="303.78" width="1.60" height="1.60" fill="#5e2a85"/>
<polygon points="104.40,304.08 105.28,305.84 103.52,305.84" fill="#5e2a85"/>
<rect x="107.40" y="304.90" width="1.60" height="1.60" fill="#5e2a85"/>
<rect x="101.70" y="305.00" width="1.60" height="1.60" fill="#5e2a85"/>
<polygon points="110.10,305.49 110.98,307.25 109.22,307.25" fill="#5e2a85"/>
<rect x="105.50" y="306.18" width="1.60" height="1.60" fill="#5e2a85"/>
<rect x="107.40" y="307.04" width="1.60" height="1.60" fill="#5e2a85"/>
<polygon points="104.40,307.07 105.28,308.83 103.52,308.83" fill="#5e2a85"/>
<rect x="109.30" y="307.86" width="1.60" height="1.60" fill="#5e2a85"/>
<rect x="101.70" y="308.05" width="1.60" height="1.60" fill="#5e2a85"/>
<polygon points="106.30,308.33 107.18,310.09 105.42,310.09" fill="#5e2a85"/>
<rect x="111.20" y="308.73" width="1.60" height="1.60" fill="#5e2a85"/>
<line x1="76.05" y1="304.98" x2="90.55" y2="304.98" stroke="#111" stroke-width="1.55"/>
<line x1="83.30" y1="305.77" x2="83.30" y2="304.18" stroke="#111" stroke-width="1.2"/>
<line x1="79.30" y1="305.77" x2="87.30" y2="305.77" stroke="#111" stroke-width="1.3"/>
<line x1="79.30" y1="304.18" x2="87.30" y2="304.18" stroke="#111" stroke-width="1.3"/>
<line x1="99.05" y1="298.08" x2="113.55" y2="298.08" stroke="#111" stroke-width="1.55"/>
<line x1="106.30" y1="299.67" x2="106.30" y2="296.49" stroke="#111" stroke-width="1.2"/>
<line x1="102.30" y1="299.67" x2="110.30" y2="299.67" stroke="#111" stroke-width="1.3"/>
<line x1="102.30" y1="296.49" x2="110.30" y2="296.49" stroke="#111" stroke-width="1.3"/>
<text x="207.00" y="240.87" font-size="6.6" text-anchor="middle" fill="#262626" textLength="51.05" lengthAdjust="spacingAndGlyphs">CD8+ T cells: Tim3</text>
<text x="207.60" y="246.19" font-size="5.2" text-anchor="middle" fill="#262626">ns</text>
<path d="M185.20,249.70 V246.50 H230.00 V249.70" fill="none" stroke="#111" stroke-width="1.1"/>
<path d="M185.20,255.40 V252.50 H230.00 V255.40 M207.00,252.50 V255.40" fill="none" stroke="#111" stroke-width="1.1"/>
<rect x="206.10" y="253.10" width="1.80" height="2.20" fill="#111"/>
<text x="196.10" y="251.69" font-size="5.2" text-anchor="middle" fill="#262626">ns</text>
<text x="218.50" y="251.69" font-size="5.2" text-anchor="middle" fill="#262626">ns</text>
<line x1="170.00" y1="254.20" x2="170.00" y2="310.35" stroke="#111" stroke-width="1.45"/>
<line x1="169.40" y1="309.75" x2="244.50" y2="309.75" stroke="#111" stroke-width="1.45"/>
<line x1="167.40" y1="256.70" x2="170.00" y2="256.70" stroke="#111" stroke-width="1.0"/>
<text x="165.40" y="258.76" font-size="6.0" text-anchor="end" fill="#262626">100</text>
<line x1="167.40" y1="283.23" x2="170.00" y2="283.23" stroke="#111" stroke-width="1.0"/>
<text x="165.40" y="285.29" font-size="6.0" text-anchor="end" fill="#262626">50</text>
<line x1="167.40" y1="309.75" x2="170.00" y2="309.75" stroke="#111" stroke-width="1.0"/>
<text x="165.40" y="311.81" font-size="6.0" text-anchor="end" fill="#262626">0</text>
<line x1="185.20" y1="309.75" x2="185.20" y2="311.95" stroke="#111" stroke-width="1.0"/>
<text x="185.20" y="320.46" font-size="6.0" text-anchor="middle" fill="#262626" textLength="15.28" lengthAdjust="spacingAndGlyphs">CTRL</text>
<line x1="207.00" y1="309.75" x2="207.00" y2="311.95" stroke="#111" stroke-width="1.0"/>
<text x="207.00" y="320.46" font-size="6.0" text-anchor="middle" fill="#262626" textLength="12.68" lengthAdjust="spacingAndGlyphs">REG</text>
<line x1="230.00" y1="309.75" x2="230.00" y2="311.95" stroke="#111" stroke-width="1.0"/>
<text x="230.00" y="320.46" font-size="6.0" text-anchor="middle" fill="#262626" textLength="17.88" lengthAdjust="spacingAndGlyphs">INDOL</text>
<text x="139.40" y="282.15" font-size="8.9" text-anchor="middle" fill="#262626" textLength="48.78" lengthAdjust="spacingAndGlyphs" transform="rotate(-90 139.40 282.15)">% Tim3 positive;</text>
<text x="149.60" y="282.15" font-size="8.9" text-anchor="middle" fill="#262626" textLength="37.86" lengthAdjust="spacingAndGlyphs" transform="rotate(-90 149.60 282.15)">CD3+ CD8+</text>
<rect x="186.15" y="308.81" width="1.90" height="1.90" fill="#5b2a7e"/>
<rect x="178.55" y="308.81" width="1.90" height="1.90" fill="#5b2a7e"/>
<rect x="184.25" y="308.92" width="1.90" height="1.90" fill="#5b2a7e"/>
<rect x="189.95" y="308.65" width="1.90" height="1.90" fill="#5b2a7e"/>
<rect x="180.45" y="308.57" width="1.90" height="1.90" fill="#5b2a7e"/>
<polygon points="207.00,300.31 208.24,301.55 207.00,302.78 205.76,301.55" fill="#c0122e"/>
<rect x="209.85" y="303.39" width="1.90" height="1.90" fill="#c0122e"/>
<polygon points="212.70,305.38 213.94,306.62 212.70,307.85 211.46,306.62" fill="#c0122e"/>
<rect x="206.05" y="306.27" width="1.90" height="1.90" fill="#234f9e"/>
<polygon points="203.20,306.21 204.44,307.45 203.20,308.68 201.96,307.45" fill="#234f9e"/>
<rect x="204.15" y="306.56" width="1.90" height="1.90" fill="#c0122e"/>
<polygon points="201.30,306.88 202.54,308.11 201.30,309.35 200.06,308.11" fill="#c0122e"/>
<rect x="207.95" y="307.39" width="1.90" height="1.90" fill="#c0122e"/>
<polygon points="210.80,307.35 212.04,308.59 210.80,309.82 209.56,308.59" fill="#234f9e"/>
<rect x="207.27" y="307.68" width="1.90" height="1.90" fill="#234f9e"/>
<polygon points="212.70,307.78 213.94,309.01 212.70,310.25 211.46,309.01" fill="#c0122e"/>
<rect x="206.63" y="308.47" width="1.90" height="1.90" fill="#c0122e"/>
<polygon points="205.10,308.50 206.34,309.73 205.10,310.97 203.86,309.73" fill="#c0122e"/>
<rect x="204.17" y="308.57" width="1.90" height="1.90" fill="#234f9e"/>
<polygon points="230.00,258.34 230.88,260.10 229.12,260.10" fill="#5e2a85"/>
<rect x="229.20" y="269.20" width="1.60" height="1.60" fill="#5e2a85"/>
<rect x="227.30" y="270.99" width="1.60" height="1.60" fill="#5e2a85"/>
<polygon points="230.00,284.89 230.88,286.65 229.12,286.65" fill="#5e2a85"/>
<rect x="229.20" y="295.94" width="1.60" height="1.60" fill="#5e2a85"/>
<rect x="229.20" y="304.72" width="1.60" height="1.60" fill="#5e2a85"/>
<polygon points="228.10,305.97 228.98,307.73 227.22,307.73" fill="#5e2a85"/>
<rect x="229.20" y="307.60" width="1.60" height="1.60" fill="#5e2a85"/>
<rect x="231.10" y="307.90" width="1.60" height="1.60" fill="#5e2a85"/>
<polygon points="228.10,308.46 228.98,310.22 227.22,310.22" fill="#5e2a85"/>
<rect x="233.00" y="308.85" width="1.60" height="1.60" fill="#5e2a85"/>
<rect x="225.40" y="309.14" width="1.60" height="1.60" fill="#5e2a85"/>
<line x1="199.75" y1="307.63" x2="214.25" y2="307.63" stroke="#111" stroke-width="1.55"/>
<line x1="207.00" y1="308.16" x2="207.00" y2="307.10" stroke="#111" stroke-width="1.2"/>
<line x1="203.00" y1="308.16" x2="211.00" y2="308.16" stroke="#111" stroke-width="1.3"/>
<line x1="203.00" y1="307.10" x2="211.00" y2="307.10" stroke="#111" stroke-width="1.3"/>
<line x1="222.75" y1="304.98" x2="237.25" y2="304.98" stroke="#111" stroke-width="1.55"/>
<line x1="230.00" y1="307.10" x2="230.00" y2="302.85" stroke="#111" stroke-width="1.2"/>
<line x1="226.00" y1="307.10" x2="234.00" y2="307.10" stroke="#111" stroke-width="1.3"/>
<line x1="226.00" y1="302.85" x2="234.00" y2="302.85" stroke="#111" stroke-width="1.3"/>
<text x="330.60" y="240.87" font-size="6.6" text-anchor="middle" fill="#262626" textLength="56.77" lengthAdjust="spacingAndGlyphs">CD4+ T cells: CD160</text>
<text x="331.20" y="246.19" font-size="5.2" text-anchor="middle" fill="#262626">ns</text>
<path d="M308.80,249.70 V246.50 H353.60 V249.70" fill="none" stroke="#111" stroke-width="1.1"/>
<path d="M308.80,255.40 V252.50 H353.60 V255.40 M330.60,252.50 V255.40" fill="none" stroke="#111" stroke-width="1.1"/>
<rect x="329.70" y="253.10" width="1.80" height="2.20" fill="#111"/>
<text x="319.70" y="251.69" font-size="5.2" text-anchor="middle" fill="#262626">ns</text>
<text x="342.10" y="251.69" font-size="5.2" text-anchor="middle" fill="#262626">ns</text>
<line x1="293.60" y1="255.80" x2="293.60" y2="265.30" stroke="#111" stroke-width="1.45"/>
<line x1="293.60" y1="272.20" x2="293.60" y2="310.35" stroke="#111" stroke-width="1.45"/>
<line x1="291.90" y1="264.90" x2="295.30" y2="268.10" stroke="#111" stroke-width="1.0"/>
<line x1="291.90" y1="270.50" x2="295.30" y2="273.70" stroke="#111" stroke-width="1.0"/>
<line x1="293.00" y1="309.75" x2="368.10" y2="309.75" stroke="#111" stroke-width="1.45"/>
<line x1="291.00" y1="273.10" x2="293.60" y2="273.10" stroke="#111" stroke-width="1.0"/>
<text x="289.00" y="275.16" font-size="6.0" text-anchor="end" fill="#262626">20</text>
<line x1="291.00" y1="282.26" x2="293.60" y2="282.26" stroke="#111" stroke-width="1.0"/>
<text x="289.00" y="284.33" font-size="6.0" text-anchor="end" fill="#262626">15</text>
<line x1="291.00" y1="291.43" x2="293.60" y2="291.43" stroke="#111" stroke-width="1.0"/>
<text x="289.00" y="293.49" font-size="6.0" text-anchor="end" fill="#262626">10</text>
<line x1="291.00" y1="300.59" x2="293.60" y2="300.59" stroke="#111" stroke-width="1.0"/>
<text x="289.00" y="302.65" font-size="6.0" text-anchor="end" fill="#262626">5</text>
<line x1="291.00" y1="309.75" x2="293.60" y2="309.75" stroke="#111" stroke-width="1.0"/>
<text x="289.00" y="311.81" font-size="6.0" text-anchor="end" fill="#262626">0</text>
<line x1="291.00" y1="258.40" x2="293.60" y2="258.40" stroke="#111" stroke-width="1.0"/>
<text x="289.00" y="260.46" font-size="6.0" text-anchor="end" fill="#262626">100</text>
<line x1="308.80" y1="309.75" x2="308.80" y2="311.95" stroke="#111" stroke-width="1.0"/>
<text x="308.80" y="320.46" font-size="6.0" text-anchor="middle" fill="#262626" textLength="15.28" lengthAdjust="spacingAndGlyphs">CTRL</text>
<line x1="330.60" y1="309.75" x2="330.60" y2="311.95" stroke="#111" stroke-width="1.0"/>
<text x="330.60" y="320.46" font-size="6.0" text-anchor="middle" fill="#262626" textLength="12.68" lengthAdjust="spacingAndGlyphs">REG</text>
<line x1="353.60" y1="309.75" x2="353.60" y2="311.95" stroke="#111" stroke-width="1.0"/>
<text x="353.60" y="320.46" font-size="6.0" text-anchor="middle" fill="#262626" textLength="17.88" lengthAdjust="spacingAndGlyphs">INDOL</text>
<text x="266.00" y="282.15" font-size="8.9" text-anchor="middle" fill="#262626" textLength="55.11" lengthAdjust="spacingAndGlyphs" transform="rotate(-90 266.00 282.15)">% CD160 positive;</text>
<text x="276.20" y="282.15" font-size="8.9" text-anchor="middle" fill="#262626" textLength="37.86" lengthAdjust="spacingAndGlyphs" transform="rotate(-90 276.20 282.15)">CD3+ CD4+</text>
<rect x="309.75" y="307.71" width="1.90" height="1.90" fill="#5b2a7e"/>
<rect x="311.65" y="308.03" width="1.90" height="1.90" fill="#5b2a7e"/>
<rect x="304.05" y="308.19" width="1.90" height="1.90" fill="#5b2a7e"/>
<rect x="302.15" y="308.79" width="1.90" height="1.90" fill="#5b2a7e"/>
<rect x="305.95" y="308.99" width="1.90" height="1.90" fill="#5b2a7e"/>
<polygon points="332.50,297.34 333.74,298.58 332.50,299.81 331.26,298.58" fill="#c0122e"/>
<rect x="327.75" y="306.82" width="1.90" height="1.90" fill="#c0122e"/>
<polygon points="334.40,306.77 335.64,308.01 334.40,309.24 333.17,308.01" fill="#c0122e"/>
<rect x="331.55" y="306.73" width="1.90" height="1.90" fill="#234f9e"/>
<polygon points="324.90,306.93 326.14,308.16 324.90,309.40 323.67,308.16" fill="#234f9e"/>
<rect x="335.35" y="307.39" width="1.90" height="1.90" fill="#c0122e"/>
<polygon points="330.60,307.43 331.84,308.67 330.60,309.90 329.37,308.67" fill="#c0122e"/>
<rect x="325.85" y="307.57" width="1.90" height="1.90" fill="#c0122e"/>
<polygon points="328.79,307.79 330.02,309.02 328.79,310.26 327.55,309.02" fill="#234f9e"/>
<rect x="327.19" y="307.82" width="1.90" height="1.90" fill="#234f9e"/>
<polygon points="330.11,308.04 331.34,309.28 330.11,310.51 328.87,309.28" fill="#c0122e"/>
<rect x="332.74" y="308.36" width="1.90" height="1.90" fill="#c0122e"/>
<polygon points="325.49,308.13 326.72,309.36 325.49,310.60 324.25,309.36" fill="#c0122e"/>
<rect x="329.72" y="308.73" width="1.90" height="1.90" fill="#234f9e"/>
<polygon points="353.60,258.97 354.48,260.73 352.72,260.73" fill="#5e2a85"/>
<rect x="352.80" y="266.08" width="1.60" height="1.60" fill="#5e2a85"/>
<rect x="352.80" y="285.01" width="1.60" height="1.60" fill="#5e2a85"/>
<polygon points="353.60,290.51 354.48,292.27 352.72,292.27" fill="#5e2a85"/>
<rect x="352.80" y="303.33" width="1.60" height="1.60" fill="#5e2a85"/>
<rect x="354.70" y="304.23" width="1.60" height="1.60" fill="#5e2a85"/>
<polygon points="351.70,304.94 352.58,306.70 350.82,306.70" fill="#5e2a85"/>
<rect x="352.80" y="306.04" width="1.60" height="1.60" fill="#5e2a85"/>
<rect x="354.70" y="306.89" width="1.60" height="1.60" fill="#5e2a85"/>
<polygon points="357.40,307.04 358.28,308.80 356.52,308.80" fill="#5e2a85"/>
<rect x="350.90" y="307.39" width="1.60" height="1.60" fill="#5e2a85"/>
<rect x="349.00" y="307.64" width="1.60" height="1.60" fill="#5e2a85"/>
<polygon points="353.60,308.23 354.48,309.99 352.72,309.99" fill="#5e2a85"/>
<rect x="347.10" y="308.48" width="1.60" height="1.60" fill="#5e2a85"/>
<rect x="358.50" y="308.61" width="1.60" height="1.60" fill="#5e2a85"/>
<polygon points="347.87,308.61 348.75,310.37 346.99,310.37" fill="#5e2a85"/>
<rect x="347.86" y="308.86" width="1.60" height="1.60" fill="#5e2a85"/>
<rect x="354.70" y="309.06" width="1.60" height="1.60" fill="#5e2a85"/>
<line x1="323.35" y1="307.92" x2="337.85" y2="307.92" stroke="#111" stroke-width="1.55"/>
<line x1="330.60" y1="308.65" x2="330.60" y2="307.18" stroke="#111" stroke-width="1.2"/>
<line x1="326.60" y1="308.65" x2="334.60" y2="308.65" stroke="#111" stroke-width="1.3"/>
<line x1="326.60" y1="307.18" x2="334.60" y2="307.18" stroke="#111" stroke-width="1.3"/>
<line x1="346.35" y1="296.92" x2="360.85" y2="296.92" stroke="#111" stroke-width="1.55"/>
<line x1="353.60" y1="302.79" x2="353.60" y2="291.06" stroke="#111" stroke-width="1.2"/>
<line x1="349.60" y1="302.79" x2="357.60" y2="302.79" stroke="#111" stroke-width="1.3"/>
<line x1="349.60" y1="291.06" x2="357.60" y2="291.06" stroke="#111" stroke-width="1.3"/>
<text x="454.00" y="240.87" font-size="6.6" text-anchor="middle" fill="#262626" textLength="51.05" lengthAdjust="spacingAndGlyphs">CD4+ T cells: Tim3</text>
<text x="454.60" y="246.19" font-size="5.2" text-anchor="middle" fill="#262626">ns</text>
<path d="M432.20,249.70 V246.50 H477.00 V249.70" fill="none" stroke="#111" stroke-width="1.1"/>
<path d="M432.20,255.40 V252.50 H477.00 V255.40 M454.00,252.50 V255.40" fill="none" stroke="#111" stroke-width="1.1"/>
<rect x="453.10" y="253.10" width="1.80" height="2.20" fill="#111"/>
<text x="443.10" y="251.69" font-size="5.2" text-anchor="middle" fill="#262626">ns</text>
<text x="465.50" y="251.69" font-size="5.2" text-anchor="middle" fill="#262626">ns</text>
<line x1="417.00" y1="254.90" x2="417.00" y2="265.30" stroke="#111" stroke-width="1.45"/>
<line x1="417.00" y1="272.00" x2="417.00" y2="310.35" stroke="#111" stroke-width="1.45"/>
<line x1="415.30" y1="264.90" x2="418.70" y2="268.10" stroke="#111" stroke-width="1.0"/>
<line x1="415.30" y1="270.30" x2="418.70" y2="273.50" stroke="#111" stroke-width="1.0"/>
<line x1="416.40" y1="309.75" x2="491.50" y2="309.75" stroke="#111" stroke-width="1.45"/>
<line x1="414.40" y1="272.60" x2="417.00" y2="272.60" stroke="#111" stroke-width="1.0"/>
<text x="412.40" y="274.66" font-size="6.0" text-anchor="end" fill="#262626">5</text>
<line x1="414.40" y1="280.03" x2="417.00" y2="280.03" stroke="#111" stroke-width="1.0"/>
<text x="412.40" y="282.09" font-size="6.0" text-anchor="end" fill="#262626">4</text>
<line x1="414.40" y1="287.46" x2="417.00" y2="287.46" stroke="#111" stroke-width="1.0"/>
<text x="412.40" y="289.52" font-size="6.0" text-anchor="end" fill="#262626">3</text>
<line x1="414.40" y1="294.89" x2="417.00" y2="294.89" stroke="#111" stroke-width="1.0"/>
<text x="412.40" y="296.95" font-size="6.0" text-anchor="end" fill="#262626">2</text>
<line x1="414.40" y1="302.32" x2="417.00" y2="302.32" stroke="#111" stroke-width="1.0"/>
<text x="412.40" y="304.38" font-size="6.0" text-anchor="end" fill="#262626">1</text>
<line x1="414.40" y1="309.75" x2="417.00" y2="309.75" stroke="#111" stroke-width="1.0"/>
<text x="412.40" y="311.81" font-size="6.0" text-anchor="end" fill="#262626">0</text>
<line x1="414.40" y1="257.50" x2="417.00" y2="257.50" stroke="#111" stroke-width="1.0"/>
<text x="412.40" y="259.56" font-size="6.0" text-anchor="end" fill="#262626">30</text>
<line x1="432.20" y1="309.75" x2="432.20" y2="311.95" stroke="#111" stroke-width="1.0"/>
<text x="432.20" y="320.46" font-size="6.0" text-anchor="middle" fill="#262626" textLength="15.28" lengthAdjust="spacingAndGlyphs">CTRL</text>
<line x1="454.00" y1="309.75" x2="454.00" y2="311.95" stroke="#111" stroke-width="1.0"/>
<text x="454.00" y="320.46" font-size="6.0" text-anchor="middle" fill="#262626" textLength="12.68" lengthAdjust="spacingAndGlyphs">REG</text>
<line x1="477.00" y1="309.75" x2="477.00" y2="311.95" stroke="#111" stroke-width="1.0"/>
<text x="477.00" y="320.46" font-size="6.0" text-anchor="middle" fill="#262626" textLength="17.88" lengthAdjust="spacingAndGlyphs">INDOL</text>
<text x="388.70" y="282.15" font-size="8.9" text-anchor="middle" fill="#262626" textLength="48.78" lengthAdjust="spacingAndGlyphs" transform="rotate(-90 388.70 282.15)">% Tim3 positive;</text>
<text x="398.90" y="282.15" font-size="8.9" text-anchor="middle" fill="#262626" textLength="37.86" lengthAdjust="spacingAndGlyphs" transform="rotate(-90 398.90 282.15)">CD3+ CD4+</text>
<rect x="425.55" y="307.19" width="1.90" height="1.90" fill="#5b2a7e"/>
<rect x="429.35" y="307.94" width="1.90" height="1.90" fill="#5b2a7e"/>
<rect x="427.45" y="308.02" width="1.90" height="1.90" fill="#5b2a7e"/>
<rect x="431.25" y="308.83" width="1.90" height="1.90" fill="#5b2a7e"/>
<rect x="435.05" y="309.02" width="1.90" height="1.90" fill="#5b2a7e"/>
<polygon points="450.20,303.35 451.44,304.58 450.20,305.82 448.96,304.58" fill="#c0122e"/>
<rect x="447.35" y="303.51" width="1.90" height="1.90" fill="#c0122e"/>
<polygon points="455.90,303.32 457.13,304.56 455.90,305.79 454.66,304.56" fill="#c0122e"/>
<rect x="458.75" y="304.28" width="1.90" height="1.90" fill="#234f9e"/>
<polygon points="457.80,304.58 459.04,305.82 457.80,307.05 456.56,305.82" fill="#234f9e"/>
<rect x="451.15" y="304.78" width="1.90" height="1.90" fill="#c0122e"/>
<polygon points="454.00,304.42 455.24,305.66 454.00,306.89 452.76,305.66" fill="#c0122e"/>
<rect x="454.36" y="304.64" width="1.90" height="1.90" fill="#c0122e"/>
<polygon points="448.30,305.93 449.54,307.17 448.30,308.40 447.06,307.17" fill="#234f9e"/>
<rect x="449.25" y="306.45" width="1.90" height="1.90" fill="#234f9e"/>
<polygon points="459.70,306.18 460.94,307.42 459.70,308.65 458.46,307.42" fill="#c0122e"/>
<rect x="456.85" y="307.26" width="1.90" height="1.90" fill="#c0122e"/>
<polygon points="452.10,307.62 453.34,308.86 452.10,310.09 450.87,308.86" fill="#c0122e"/>
<rect x="447.35" y="308.86" width="1.90" height="1.90" fill="#234f9e"/>
<polygon points="477.00,258.35 477.88,260.11 476.12,260.11" fill="#5e2a85"/>
<rect x="476.20" y="275.44" width="1.60" height="1.60" fill="#5e2a85"/>
<rect x="476.20" y="290.27" width="1.60" height="1.60" fill="#5e2a85"/>
<polygon points="477.00,299.25 477.88,301.01 476.12,301.01" fill="#5e2a85"/>
<rect x="476.20" y="303.08" width="1.60" height="1.60" fill="#5e2a85"/>
<rect x="476.20" y="305.36" width="1.60" height="1.60" fill="#5e2a85"/>
<polygon points="475.10,305.77 475.98,307.53 474.22,307.53" fill="#5e2a85"/>
<rect x="478.10" y="306.65" width="1.60" height="1.60" fill="#5e2a85"/>
<rect x="476.20" y="307.48" width="1.60" height="1.60" fill="#5e2a85"/>
<polygon points="473.20,307.77 474.08,309.53 472.32,309.53" fill="#5e2a85"/>
<rect x="474.30" y="308.32" width="1.60" height="1.60" fill="#5e2a85"/>
<rect x="480.00" y="308.64" width="1.60" height="1.60" fill="#5e2a85"/>
<polygon points="478.90,308.86 479.78,310.62 478.02,310.62" fill="#5e2a85"/>
<rect x="470.50" y="308.82" width="1.60" height="1.60" fill="#5e2a85"/>
<line x1="446.75" y1="306.78" x2="461.25" y2="306.78" stroke="#111" stroke-width="1.55"/>
<line x1="454.00" y1="307.52" x2="454.00" y2="306.04" stroke="#111" stroke-width="1.2"/>
<line x1="450.00" y1="307.52" x2="458.00" y2="307.52" stroke="#111" stroke-width="1.3"/>
<line x1="450.00" y1="306.04" x2="458.00" y2="306.04" stroke="#111" stroke-width="1.3"/>
<line x1="469.75" y1="300.83" x2="484.25" y2="300.83" stroke="#111" stroke-width="1.55"/>
<line x1="477.00" y1="306.78" x2="477.00" y2="294.89" stroke="#111" stroke-width="1.2"/>
<line x1="473.00" y1="306.78" x2="481.00" y2="306.78" stroke="#111" stroke-width="1.3"/>
<line x1="473.00" y1="294.89" x2="481.00" y2="294.89" stroke="#111" stroke-width="1.3"/>
<text x="73.50" y="358.47" font-size="6.6" text-anchor="middle" fill="#262626" textLength="52.00" lengthAdjust="spacingAndGlyphs">CD8+ T cells: PD-1</text>
<line x1="45.00" y1="363.60" x2="45.00" y2="423.60" stroke="#111" stroke-width="1.45"/>
<line x1="44.40" y1="423.00" x2="102.00" y2="423.00" stroke="#111" stroke-width="1.45"/>
<line x1="42.40" y1="366.75" x2="45.00" y2="366.75" stroke="#111" stroke-width="1.0"/>
<text x="39.10" y="368.81" font-size="6.0" text-anchor="end" fill="#262626">30</text>
<line x1="42.40" y1="394.80" x2="45.00" y2="394.80" stroke="#111" stroke-width="1.0"/>
<text x="39.10" y="396.86" font-size="6.0" text-anchor="end" fill="#262626">15</text>
<line x1="42.40" y1="423.00" x2="45.00" y2="423.00" stroke="#111" stroke-width="1.0"/>
<text x="39.10" y="425.06" font-size="6.0" text-anchor="end" fill="#262626">0</text>
<line x1="60.50" y1="423.00" x2="60.50" y2="425.20" stroke="#111" stroke-width="1.0"/>
<text x="60.50" y="434.66" font-size="6.0" text-anchor="middle" fill="#262626" textLength="7.00" lengthAdjust="spacingAndGlyphs">T0</text>
<line x1="85.00" y1="423.00" x2="85.00" y2="425.20" stroke="#111" stroke-width="1.0"/>
<text x="85.00" y="434.66" font-size="6.0" text-anchor="middle" fill="#262626" textLength="7.00" lengthAdjust="spacingAndGlyphs">T1</text>
<path d="M60.50,374.30 L85.00,405.80" fill="none" stroke="#2a55a3" stroke-width="1.15"/>
<circle cx="60.50" cy="374.30" r="1.6" fill="#2a55a3"/>
<circle cx="85.00" cy="405.80" r="1.6" fill="#2a55a3"/>
<path d="M60.50,382.50 L85.00,410.00" fill="none" stroke="#5aab3c" stroke-width="1.15"/>
<circle cx="60.50" cy="382.50" r="1.6" fill="#5aab3c"/>
<circle cx="85.00" cy="410.00" r="1.6" fill="#5aab3c"/>
<path d="M60.50,387.00 L85.00,405.80" fill="none" stroke="#b8163a" stroke-width="1.15"/>
<circle cx="60.50" cy="387.00" r="1.6" fill="#b8163a"/>
<circle cx="85.00" cy="405.80" r="1.6" fill="#b8163a"/>
<text x="15.60" y="393.50" font-size="8.9" text-anchor="middle" fill="#262626" textLength="48.78" lengthAdjust="spacingAndGlyphs" transform="rotate(-90 15.60 393.50)">% PD-1 positive;</text>
<text x="26.20" y="393.50" font-size="8.9" text-anchor="middle" fill="#262626" textLength="37.58" lengthAdjust="spacingAndGlyphs" transform="rotate(-90 26.20 393.50)">CD3+ CD8+</text>
<text x="198.50" y="359.07" font-size="6.6" text-anchor="middle" fill="#262626" textLength="52.00" lengthAdjust="spacingAndGlyphs">CD4+ T cells: PD-1</text>
<line x1="170.00" y1="364.40" x2="170.00" y2="423.60" stroke="#111" stroke-width="1.45"/>
<line x1="169.40" y1="423.00" x2="227.00" y2="423.00" stroke="#111" stroke-width="1.45"/>
<line x1="167.40" y1="367.50" x2="170.00" y2="367.50" stroke="#111" stroke-width="1.0"/>
<text x="163.90" y="369.56" font-size="6.0" text-anchor="end" fill="#262626">10</text>
<line x1="167.40" y1="395.50" x2="170.00" y2="395.50" stroke="#111" stroke-width="1.0"/>
<text x="163.90" y="397.56" font-size="6.0" text-anchor="end" fill="#262626">5</text>
<line x1="167.40" y1="423.00" x2="170.00" y2="423.00" stroke="#111" stroke-width="1.0"/>
<text x="163.90" y="425.06" font-size="6.0" text-anchor="end" fill="#262626">0</text>
<line x1="185.80" y1="423.00" x2="185.80" y2="425.20" stroke="#111" stroke-width="1.0"/>
<text x="185.80" y="434.66" font-size="6.0" text-anchor="middle" fill="#262626" textLength="7.00" lengthAdjust="spacingAndGlyphs">T0</text>
<line x1="210.00" y1="423.00" x2="210.00" y2="425.20" stroke="#111" stroke-width="1.0"/>
<text x="210.00" y="434.66" font-size="6.0" text-anchor="middle" fill="#262626" textLength="7.00" lengthAdjust="spacingAndGlyphs">T1</text>
<path d="M185.80,368.80 L210.00,392.00" fill="none" stroke="#5aab3c" stroke-width="1.15"/>
<circle cx="185.80" cy="368.80" r="1.6" fill="#5aab3c"/>
<circle cx="210.00" cy="392.00" r="1.6" fill="#5aab3c"/>
<path d="M185.80,380.50 L210.00,393.00" fill="none" stroke="#2a55a3" stroke-width="1.15"/>
<circle cx="185.80" cy="380.50" r="1.6" fill="#2a55a3"/>
<circle cx="210.00" cy="393.00" r="1.6" fill="#2a55a3"/>
<path d="M185.80,399.30 L210.00,398.00" fill="none" stroke="#b8163a" stroke-width="1.15"/>
<circle cx="185.80" cy="399.30" r="1.6" fill="#b8163a"/>
<circle cx="210.00" cy="398.00" r="1.6" fill="#b8163a"/>
<text x="142.50" y="394.30" font-size="8.9" text-anchor="middle" fill="#262626" textLength="48.78" lengthAdjust="spacingAndGlyphs" transform="rotate(-90 142.50 394.30)">% PD-1 positive;</text>
<text x="152.00" y="394.30" font-size="8.9" text-anchor="middle" fill="#262626" textLength="37.58" lengthAdjust="spacingAndGlyphs" transform="rotate(-90 152.00 394.30)">CD3+ CD4+</text>
<text x="330.90" y="353.67" font-size="6.6" text-anchor="middle" fill="#262626" textLength="34.30" lengthAdjust="spacingAndGlyphs">T cells: Ki-67</text>
<text x="331.35" y="361.55" font-size="7.6" text-anchor="middle" fill="#111" textLength="8.80" lengthAdjust="spacingAndGlyphs">****</text>
<path d="M309.50,362.70 V359.50 H353.20 V362.70" fill="none" stroke="#111" stroke-width="1.1"/>
<path d="M309.50,369.40 V366.50 H353.20 V369.40 M331.30,366.50 V369.40" fill="none" stroke="#111" stroke-width="1.1"/>
<rect x="330.40" y="367.10" width="1.80" height="2.20" fill="#111"/>
<text x="320.40" y="367.05" font-size="7.6" text-anchor="middle" fill="#111" textLength="2.70" lengthAdjust="spacingAndGlyphs">*</text>
<text x="342.25" y="367.05" font-size="7.6" text-anchor="middle" fill="#111" textLength="2.70" lengthAdjust="spacingAndGlyphs">*</text>
<line x1="293.00" y1="365.00" x2="293.00" y2="423.60" stroke="#111" stroke-width="1.45"/>
<line x1="292.40" y1="423.00" x2="367.50" y2="423.00" stroke="#111" stroke-width="1.45"/>
<line x1="290.40" y1="367.50" x2="293.00" y2="367.50" stroke="#111" stroke-width="1.0"/>
<text x="288.40" y="369.56" font-size="6.0" text-anchor="end" fill="#262626">20</text>
<line x1="290.40" y1="381.38" x2="293.00" y2="381.38" stroke="#111" stroke-width="1.0"/>
<text x="288.40" y="383.44" font-size="6.0" text-anchor="end" fill="#262626">15</text>
<line x1="290.40" y1="395.25" x2="293.00" y2="395.25" stroke="#111" stroke-width="1.0"/>
<text x="288.40" y="397.31" font-size="6.0" text-anchor="end" fill="#262626">10</text>
<line x1="290.40" y1="409.12" x2="293.00" y2="409.12" stroke="#111" stroke-width="1.0"/>
<text x="288.40" y="411.19" font-size="6.0" text-anchor="end" fill="#262626">5</text>
<line x1="290.40" y1="423.00" x2="293.00" y2="423.00" stroke="#111" stroke-width="1.0"/>
<text x="288.40" y="425.06" font-size="6.0" text-anchor="end" fill="#262626">0</text>
<line x1="309.50" y1="423.00" x2="309.50" y2="425.20" stroke="#111" stroke-width="1.0"/>
<text x="309.50" y="434.86" font-size="6.0" text-anchor="middle" fill="#262626" textLength="15.28" lengthAdjust="spacingAndGlyphs">CTRL</text>
<line x1="331.30" y1="423.00" x2="331.30" y2="425.20" stroke="#111" stroke-width="1.0"/>
<text x="331.30" y="434.86" font-size="6.0" text-anchor="middle" fill="#262626" textLength="12.68" lengthAdjust="spacingAndGlyphs">REG</text>
<line x1="353.20" y1="423.00" x2="353.20" y2="425.20" stroke="#111" stroke-width="1.0"/>
<text x="353.20" y="434.86" font-size="6.0" text-anchor="middle" fill="#262626" textLength="17.88" lengthAdjust="spacingAndGlyphs">INDOL</text>
<rect x="308.55" y="385.35" width="1.90" height="1.90" fill="#5b2a7e"/>
<rect x="308.55" y="388.63" width="1.90" height="1.90" fill="#5b2a7e"/>
<rect x="308.55" y="391.33" width="1.90" height="1.90" fill="#5b2a7e"/>
<rect x="310.45" y="393.12" width="1.90" height="1.90" fill="#5b2a7e"/>
<rect x="308.55" y="394.25" width="1.90" height="1.90" fill="#5b2a7e"/>
<rect x="308.55" y="403.87" width="1.90" height="1.90" fill="#5b2a7e"/>
<polygon points="335.10,381.64 336.34,382.88 335.10,384.11 333.87,382.88" fill="#c0122e"/>
<rect x="332.25" y="388.58" width="1.90" height="1.90" fill="#234f9e"/>
<polygon points="333.20,391.10 334.44,392.33 333.20,393.57 331.96,392.33" fill="#c0122e"/>
<rect x="334.15" y="394.09" width="1.90" height="1.90" fill="#c0122e"/>
<polygon points="327.50,396.87 328.74,398.11 327.50,399.34 326.26,398.11" fill="#234f9e"/>
<rect x="324.65" y="400.00" width="1.90" height="1.90" fill="#c0122e"/>
<polygon points="337.00,400.96 338.24,402.20 337.00,403.43 335.76,402.20" fill="#c0122e"/>
<rect x="330.35" y="402.78" width="1.90" height="1.90" fill="#234f9e"/>
<polygon points="337.00,403.12 338.24,404.36 337.00,405.59 335.76,404.36" fill="#c0122e"/>
<rect x="334.15" y="405.57" width="1.90" height="1.90" fill="#c0122e"/>
<polygon points="331.30,406.53 332.54,407.76 331.30,409.00 330.06,407.76" fill="#234f9e"/>
<rect x="332.25" y="407.98" width="1.90" height="1.90" fill="#c0122e"/>
<polygon points="327.50,409.12 328.74,410.36 327.50,411.59 326.26,410.36" fill="#c0122e"/>
<rect x="328.45" y="411.07" width="1.90" height="1.90" fill="#234f9e"/>
<polygon points="335.10,412.23 336.34,413.47 335.10,414.70 333.87,413.47" fill="#c0122e"/>
<rect x="328.45" y="413.75" width="1.90" height="1.90" fill="#c0122e"/>
<polygon points="353.20,386.10 354.08,387.86 352.32,387.86" fill="#5e2a85"/>
<rect x="352.40" y="388.77" width="1.60" height="1.60" fill="#5e2a85"/>
<rect x="354.30" y="390.05" width="1.60" height="1.60" fill="#5e2a85"/>
<polygon points="353.20,391.37 354.08,393.13 352.32,393.13" fill="#5e2a85"/>
<rect x="352.40" y="394.55" width="1.60" height="1.60" fill="#5e2a85"/>
<rect x="354.30" y="396.03" width="1.60" height="1.60" fill="#5e2a85"/>
<polygon points="353.20,397.25 354.08,399.01 352.32,399.01" fill="#5e2a85"/>
<rect x="354.30" y="398.82" width="1.60" height="1.60" fill="#5e2a85"/>
<rect x="352.40" y="399.83" width="1.60" height="1.60" fill="#5e2a85"/>
<polygon points="355.10,401.15 355.98,402.91 354.22,402.91" fill="#5e2a85"/>
<rect x="352.40" y="402.87" width="1.60" height="1.60" fill="#5e2a85"/>
<rect x="350.50" y="402.59" width="1.60" height="1.60" fill="#5e2a85"/>
<polygon points="355.10,404.12 355.98,405.88 354.22,405.88" fill="#5e2a85"/>
<rect x="348.60" y="404.27" width="1.60" height="1.60" fill="#5e2a85"/>
<rect x="352.40" y="405.60" width="1.60" height="1.60" fill="#5e2a85"/>
<polygon points="351.30,405.41 352.18,407.17 350.42,407.17" fill="#5e2a85"/>
<rect x="356.20" y="405.36" width="1.60" height="1.60" fill="#5e2a85"/>
<rect x="354.30" y="407.03" width="1.60" height="1.60" fill="#5e2a85"/>
<polygon points="349.40,406.62 350.28,408.38 348.52,408.38" fill="#5e2a85"/>
<rect x="358.10" y="407.11" width="1.60" height="1.60" fill="#5e2a85"/>
<rect x="352.40" y="408.13" width="1.60" height="1.60" fill="#5e2a85"/>
<polygon points="351.30,407.97 352.18,409.73 350.42,409.73" fill="#5e2a85"/>
<rect x="356.20" y="408.17" width="1.60" height="1.60" fill="#5e2a85"/>
<rect x="346.70" y="408.22" width="1.60" height="1.60" fill="#5e2a85"/>
<polygon points="355.10,409.49 355.98,411.25 354.22,411.25" fill="#5e2a85"/>
<rect x="348.60" y="409.90" width="1.60" height="1.60" fill="#5e2a85"/>
<rect x="358.10" y="409.81" width="1.60" height="1.60" fill="#5e2a85"/>
<polygon points="345.60,409.78 346.48,411.54 344.72,411.54" fill="#5e2a85"/>
<rect x="352.40" y="411.02" width="1.60" height="1.60" fill="#5e2a85"/>
<rect x="350.50" y="411.10" width="1.60" height="1.60" fill="#5e2a85"/>
<polygon points="357.00,411.09 357.88,412.85 356.12,412.85" fill="#5e2a85"/>
<rect x="346.70" y="410.94" width="1.60" height="1.60" fill="#5e2a85"/>
<rect x="354.30" y="412.58" width="1.60" height="1.60" fill="#5e2a85"/>
<polygon points="349.40,412.32 350.28,414.08 348.52,414.08" fill="#5e2a85"/>
<rect x="358.10" y="412.66" width="1.60" height="1.60" fill="#5e2a85"/>
<rect x="352.40" y="414.06" width="1.60" height="1.60" fill="#5e2a85"/>
<polygon points="351.30,413.50 352.18,415.26 350.42,415.26" fill="#5e2a85"/>
<rect x="356.20" y="413.73" width="1.60" height="1.60" fill="#5e2a85"/>
<rect x="354.30" y="415.31" width="1.60" height="1.60" fill="#5e2a85"/>
<polygon points="349.40,414.94 350.28,416.70 348.52,416.70" fill="#5e2a85"/>
<rect x="352.40" y="416.63" width="1.60" height="1.60" fill="#5e2a85"/>
<rect x="350.50" y="416.59" width="1.60" height="1.60" fill="#5e2a85"/>
<polygon points="355.10,417.63 355.98,419.39 354.22,419.39" fill="#5e2a85"/>
<rect x="352.40" y="418.79" width="1.60" height="1.60" fill="#5e2a85"/>
<rect x="350.50" y="419.40" width="1.60" height="1.60" fill="#5e2a85"/>
<line x1="302.25" y1="392.48" x2="316.75" y2="392.48" stroke="#111" stroke-width="1.55"/>
<line x1="309.50" y1="394.97" x2="309.50" y2="389.98" stroke="#111" stroke-width="1.2"/>
<line x1="305.50" y1="394.97" x2="313.50" y2="394.97" stroke="#111" stroke-width="1.3"/>
<line x1="305.50" y1="389.98" x2="313.50" y2="389.98" stroke="#111" stroke-width="1.3"/>
<line x1="324.05" y1="403.02" x2="338.55" y2="403.02" stroke="#111" stroke-width="1.55"/>
<line x1="331.30" y1="405.24" x2="331.30" y2="400.80" stroke="#111" stroke-width="1.2"/>
<line x1="327.30" y1="405.24" x2="335.30" y2="405.24" stroke="#111" stroke-width="1.3"/>
<line x1="327.30" y1="400.80" x2="335.30" y2="400.80" stroke="#111" stroke-width="1.3"/>
<line x1="345.95" y1="410.24" x2="360.45" y2="410.24" stroke="#111" stroke-width="1.55"/>
<line x1="353.20" y1="411.62" x2="353.20" y2="408.85" stroke="#111" stroke-width="1.2"/>
<line x1="349.20" y1="411.62" x2="357.20" y2="411.62" stroke="#111" stroke-width="1.3"/>
<line x1="349.20" y1="408.85" x2="357.20" y2="408.85" stroke="#111" stroke-width="1.3"/>
<text x="266.50" y="395.20" font-size="8.9" text-anchor="middle" fill="#262626" textLength="50.60" lengthAdjust="spacingAndGlyphs" transform="rotate(-90 266.50 395.20)">% Ki-67 positive;</text>
<text x="276.3" y="395.0" font-size="8.9" text-anchor="middle" fill="#262626" textLength="44" lengthAdjust="spacingAndGlyphs" transform="rotate(-90 276.3 395.0)">CD5+ CD19<tspan font-size="4.2" dy="-3.6">neg</tspan></text>
<text x="443.50" y="362.57" font-size="6.6" text-anchor="middle" fill="#262626" textLength="34.30" lengthAdjust="spacingAndGlyphs">T cells: Ki-67</text>
<line x1="417.60" y1="366.50" x2="417.60" y2="424.00" stroke="#111" stroke-width="1.45"/>
<line x1="417.00" y1="423.40" x2="469.50" y2="423.40" stroke="#111" stroke-width="1.45"/>
<line x1="415.00" y1="369.70" x2="417.60" y2="369.70" stroke="#111" stroke-width="1.0"/>
<text x="411.80" y="371.76" font-size="6.0" text-anchor="end" fill="#262626">12</text>
<line x1="415.00" y1="396.50" x2="417.60" y2="396.50" stroke="#111" stroke-width="1.0"/>
<text x="411.80" y="398.56" font-size="6.0" text-anchor="end" fill="#262626">6</text>
<line x1="415.00" y1="423.40" x2="417.60" y2="423.40" stroke="#111" stroke-width="1.0"/>
<text x="411.80" y="425.46" font-size="6.0" text-anchor="end" fill="#262626">0</text>
<line x1="431.40" y1="423.40" x2="431.40" y2="425.60" stroke="#111" stroke-width="1.0"/>
<text x="431.40" y="434.96" font-size="6.0" text-anchor="middle" fill="#262626" textLength="7.00" lengthAdjust="spacingAndGlyphs">T0</text>
<line x1="454.00" y1="423.40" x2="454.00" y2="425.60" stroke="#111" stroke-width="1.0"/>
<text x="454.00" y="434.96" font-size="6.0" text-anchor="middle" fill="#262626" textLength="7.00" lengthAdjust="spacingAndGlyphs">T1</text>
<path d="M431.40,405.80 L454.00,372.60" fill="none" stroke="#5aab3c" stroke-width="1.15"/>
<circle cx="431.40" cy="405.80" r="1.6" fill="#5aab3c"/>
<circle cx="454.00" cy="372.60" r="1.6" fill="#5aab3c"/>
<path d="M431.40,404.60 L454.00,393.80" fill="none" stroke="#b8163a" stroke-width="1.15"/>
<circle cx="431.40" cy="404.60" r="1.6" fill="#b8163a"/>
<circle cx="454.00" cy="393.80" r="1.6" fill="#b8163a"/>
<path d="M431.40,409.50 L454.00,396.60" fill="none" stroke="#2a55a3" stroke-width="1.15"/>
<circle cx="431.40" cy="409.50" r="1.6" fill="#2a55a3"/>
<circle cx="454.00" cy="396.60" r="1.6" fill="#2a55a3"/>
<path d="M431.40,422.40 L454.00,396.40" fill="none" stroke="#4b1a6e" stroke-width="1.15"/>
<circle cx="431.40" cy="422.40" r="1.6" fill="#4b1a6e"/>
<circle cx="454.00" cy="396.40" r="1.6" fill="#4b1a6e"/>
<text x="388.80" y="394.00" font-size="8.9" text-anchor="middle" fill="#262626" textLength="53.50" lengthAdjust="spacingAndGlyphs" transform="rotate(-90 388.80 394.00)">% Ki-67 positive;</text>
<text x="398.4" y="395.4" font-size="8.9" text-anchor="middle" fill="#262626" textLength="43" lengthAdjust="spacingAndGlyphs" transform="rotate(-90 398.4 395.4)">CD5+ CD19<tspan font-size="4.2" dy="-3.6">neg</tspan></text>
<text x="497.90" y="373.07" font-size="6.3" text-anchor="middle" fill="#262626" textLength="11.50" lengthAdjust="spacingAndGlyphs">KEY</text>
<text x="498.40" y="380.77" font-size="6.3" text-anchor="middle" fill="#262626" textLength="28.60" lengthAdjust="spacingAndGlyphs">(Fig. 7B,C)</text>
<line x1="483.00" y1="388.20" x2="492.90" y2="388.20" stroke="#5aab3c" stroke-width="1.1"/>
<circle cx="488.00" cy="388.20" r="1.6" fill="#5aab3c"/>
<text x="496.20" y="390.37" font-size="6.3" text-anchor="start" fill="#262626" textLength="17.50" lengthAdjust="spacingAndGlyphs">CLL02</text>
<line x1="483.00" y1="397.00" x2="492.90" y2="397.00" stroke="#b8163a" stroke-width="1.1"/>
<circle cx="488.00" cy="397.00" r="1.6" fill="#b8163a"/>
<text x="496.20" y="399.17" font-size="6.3" text-anchor="start" fill="#262626" textLength="17.50" lengthAdjust="spacingAndGlyphs">CLL05</text>
<line x1="483.00" y1="406.00" x2="492.90" y2="406.00" stroke="#2a55a3" stroke-width="1.1"/>
<circle cx="488.00" cy="406.00" r="1.6" fill="#2a55a3"/>
<text x="496.20" y="408.17" font-size="6.3" text-anchor="start" fill="#262626" textLength="17.50" lengthAdjust="spacingAndGlyphs">CLL06</text>
<line x1="483.00" y1="414.80" x2="492.90" y2="414.80" stroke="#4b1a6e" stroke-width="1.1"/>
<circle cx="488.00" cy="414.80" r="1.6" fill="#4b1a6e"/>
<text x="496.20" y="416.97" font-size="6.3" text-anchor="start" fill="#262626" textLength="17.50" lengthAdjust="spacingAndGlyphs">CLL12</text>
<text x="75.00" y="483.74" font-size="6.8" text-anchor="middle" fill="#262626" textLength="40.99" lengthAdjust="spacingAndGlyphs">IgM/IgD: p-Erk</text>
<line x1="47.00" y1="488.60" x2="47.00" y2="547.35" stroke="#111" stroke-width="1.45"/>
<line x1="46.40" y1="546.75" x2="102.50" y2="546.75" stroke="#111" stroke-width="1.45"/>
<line x1="44.40" y1="491.25" x2="47.00" y2="491.25" stroke="#111" stroke-width="1.0"/>
<text x="42.40" y="493.31" font-size="6.0" text-anchor="end" fill="#262626">40</text>
<line x1="44.40" y1="505.10" x2="47.00" y2="505.10" stroke="#111" stroke-width="1.0"/>
<text x="42.40" y="507.16" font-size="6.0" text-anchor="end" fill="#262626">30</text>
<line x1="44.40" y1="519.00" x2="47.00" y2="519.00" stroke="#111" stroke-width="1.0"/>
<text x="42.40" y="521.06" font-size="6.0" text-anchor="end" fill="#262626">20</text>
<line x1="44.40" y1="532.90" x2="47.00" y2="532.90" stroke="#111" stroke-width="1.0"/>
<text x="42.40" y="534.96" font-size="6.0" text-anchor="end" fill="#262626">10</text>
<line x1="44.40" y1="546.75" x2="47.00" y2="546.75" stroke="#111" stroke-width="1.0"/>
<text x="42.40" y="548.81" font-size="6.0" text-anchor="end" fill="#262626">0</text>
<line x1="63.00" y1="546.75" x2="63.00" y2="548.95" stroke="#111" stroke-width="1.0"/>
<line x1="86.80" y1="546.75" x2="86.80" y2="548.95" stroke="#111" stroke-width="1.0"/>
<path d="M63.00,546.20 L86.80,534.10" fill="none" stroke="#2b6b40" stroke-width="0.95"/>
<circle cx="63.00" cy="546.20" r="1.3" fill="#2b6b40"/>
<circle cx="86.80" cy="534.10" r="1.3" fill="#2b6b40"/>
<path d="M63.00,542.80 L86.80,533.30" fill="none" stroke="#e8921e" stroke-width="0.95"/>
<circle cx="63.00" cy="542.80" r="1.3" fill="#e8921e"/>
<circle cx="86.80" cy="533.30" r="1.3" fill="#e8921e"/>
<path d="M63.00,545.50 L86.80,530.80" fill="none" stroke="#b9a3d3" stroke-width="0.95"/>
<circle cx="63.00" cy="545.50" r="1.3" fill="#b9a3d3"/>
<circle cx="86.80" cy="530.80" r="1.3" fill="#b9a3d3"/>
<path d="M63.00,546.00 L86.80,523.60" fill="none" stroke="#1f3f8f" stroke-width="0.95"/>
<circle cx="63.00" cy="546.00" r="1.3" fill="#1f3f8f"/>
<circle cx="86.80" cy="523.60" r="1.3" fill="#1f3f8f"/>
<path d="M63.00,545.80 L86.80,521.30" fill="none" stroke="#4b1a6e" stroke-width="0.95"/>
<circle cx="63.00" cy="545.80" r="1.3" fill="#4b1a6e"/>
<circle cx="86.80" cy="521.30" r="1.3" fill="#4b1a6e"/>
<path d="M63.00,545.60 L86.80,520.10" fill="none" stroke="#b8163a" stroke-width="0.95"/>
<circle cx="63.00" cy="545.60" r="1.3" fill="#b8163a"/>
<circle cx="86.80" cy="520.10" r="1.3" fill="#b8163a"/>
<path d="M63.00,546.00 L86.80,500.00" fill="none" stroke="#5aab3c" stroke-width="0.95"/>
<circle cx="63.00" cy="546.00" r="1.3" fill="#5aab3c"/>
<circle cx="86.80" cy="500.00" r="1.3" fill="#5aab3c"/>
<text x="63.00" y="557.53" font-size="5.6" text-anchor="middle" fill="#262626">-</text>
<text x="86.80" y="557.53" font-size="5.6" text-anchor="middle" fill="#262626">+</text>
<line x1="55.00" y1="563.20" x2="95.50" y2="563.20" stroke="#111" stroke-width="1.2"/>
<text x="75.25" y="571.87" font-size="6.6" text-anchor="middle" fill="#262626" textLength="31.30" lengthAdjust="spacingAndGlyphs">CD40L/IL-4</text>
<text x="75.00" y="507.25" font-size="7.6" text-anchor="middle" fill="#111" textLength="5.40" lengthAdjust="spacingAndGlyphs">**</text>
<text x="29.40" y="517.60" font-size="8.8" text-anchor="middle" fill="#262626" textLength="48.40" lengthAdjust="spacingAndGlyphs" transform="rotate(-90 29.40 517.60)">% p-Erk positive</text>
<text x="167.00" y="483.74" font-size="6.8" text-anchor="middle" fill="#262626" textLength="40.64" lengthAdjust="spacingAndGlyphs">IgM/IgD: p-Akt</text>
<line x1="139.50" y1="488.60" x2="139.50" y2="547.35" stroke="#111" stroke-width="1.45"/>
<line x1="138.90" y1="546.75" x2="193.00" y2="546.75" stroke="#111" stroke-width="1.45"/>
<line x1="136.90" y1="491.75" x2="139.50" y2="491.75" stroke="#111" stroke-width="1.0"/>
<text x="134.90" y="493.81" font-size="6.0" text-anchor="end" fill="#262626">25</text>
<line x1="136.90" y1="502.75" x2="139.50" y2="502.75" stroke="#111" stroke-width="1.0"/>
<text x="134.90" y="504.81" font-size="6.0" text-anchor="end" fill="#262626">20</text>
<line x1="136.90" y1="513.75" x2="139.50" y2="513.75" stroke="#111" stroke-width="1.0"/>
<text x="134.90" y="515.81" font-size="6.0" text-anchor="end" fill="#262626">15</text>
<line x1="136.90" y1="524.75" x2="139.50" y2="524.75" stroke="#111" stroke-width="1.0"/>
<text x="134.90" y="526.81" font-size="6.0" text-anchor="end" fill="#262626">10</text>
<line x1="136.90" y1="535.75" x2="139.50" y2="535.75" stroke="#111" stroke-width="1.0"/>
<text x="134.90" y="537.81" font-size="6.0" text-anchor="end" fill="#262626">5</text>
<line x1="136.90" y1="546.75" x2="139.50" y2="546.75" stroke="#111" stroke-width="1.0"/>
<text x="134.90" y="548.81" font-size="6.0" text-anchor="end" fill="#262626">0</text>
<line x1="154.80" y1="546.75" x2="154.80" y2="548.95" stroke="#111" stroke-width="1.0"/>
<line x1="178.60" y1="546.75" x2="178.60" y2="548.95" stroke="#111" stroke-width="1.0"/>
<path d="M154.80,546.40 L178.60,546.00" fill="none" stroke="#2b6b40" stroke-width="0.95"/>
<circle cx="154.80" cy="546.40" r="1.3" fill="#2b6b40"/>
<circle cx="178.60" cy="546.00" r="1.3" fill="#2b6b40"/>
<path d="M154.80,546.40 L178.60,541.50" fill="none" stroke="#b9a3d3" stroke-width="0.95"/>
<circle cx="154.80" cy="546.40" r="1.3" fill="#b9a3d3"/>
<circle cx="178.60" cy="541.50" r="1.3" fill="#b9a3d3"/>
<path d="M154.80,546.40 L178.60,540.00" fill="none" stroke="#e8921e" stroke-width="0.95"/>
<circle cx="154.80" cy="546.40" r="1.3" fill="#e8921e"/>
<circle cx="178.60" cy="540.00" r="1.3" fill="#e8921e"/>
<path d="M154.80,546.40 L178.60,532.20" fill="none" stroke="#5aab3c" stroke-width="0.95"/>
<circle cx="154.80" cy="546.40" r="1.3" fill="#5aab3c"/>
<circle cx="178.60" cy="532.20" r="1.3" fill="#5aab3c"/>
<path d="M154.80,546.40 L178.60,509.50" fill="none" stroke="#1f3f8f" stroke-width="0.95"/>
<circle cx="154.80" cy="546.40" r="1.3" fill="#1f3f8f"/>
<circle cx="178.60" cy="509.50" r="1.3" fill="#1f3f8f"/>
<path d="M154.80,536.70 L178.60,503.10" fill="none" stroke="#b8163a" stroke-width="0.95"/>
<circle cx="154.80" cy="536.70" r="1.3" fill="#b8163a"/>
<circle cx="178.60" cy="503.10" r="1.3" fill="#b8163a"/>
<text x="154.80" y="557.53" font-size="5.6" text-anchor="middle" fill="#262626">-</text>
<text x="178.60" y="557.53" font-size="5.6" text-anchor="middle" fill="#262626">+</text>
<line x1="147.00" y1="563.20" x2="187.00" y2="563.20" stroke="#111" stroke-width="1.2"/>
<text x="167.00" y="571.87" font-size="6.6" text-anchor="middle" fill="#262626" textLength="31.30" lengthAdjust="spacingAndGlyphs">CD40L/IL-4</text>
<text x="166.60" y="505.36" font-size="6.0" text-anchor="middle" fill="#262626">ns</text>
<text x="121.30" y="517.60" font-size="8.8" text-anchor="middle" fill="#262626" textLength="48.03" lengthAdjust="spacingAndGlyphs" transform="rotate(-90 121.30 517.60)">% p-Akt positive</text>
<text x="258.00" y="483.74" font-size="6.8" text-anchor="middle" fill="#262626" textLength="42.06" lengthAdjust="spacingAndGlyphs">IgM/IgD: p-Syk</text>
<line x1="231.30" y1="488.60" x2="231.30" y2="547.35" stroke="#111" stroke-width="1.45"/>
<line x1="230.70" y1="546.75" x2="285.00" y2="546.75" stroke="#111" stroke-width="1.45"/>
<line x1="228.70" y1="491.75" x2="231.30" y2="491.75" stroke="#111" stroke-width="1.0"/>
<text x="226.70" y="493.81" font-size="6.0" text-anchor="end" fill="#262626">60</text>
<line x1="228.70" y1="510.10" x2="231.30" y2="510.10" stroke="#111" stroke-width="1.0"/>
<text x="226.70" y="512.16" font-size="6.0" text-anchor="end" fill="#262626">40</text>
<line x1="228.70" y1="528.40" x2="231.30" y2="528.40" stroke="#111" stroke-width="1.0"/>
<text x="226.70" y="530.46" font-size="6.0" text-anchor="end" fill="#262626">20</text>
<line x1="228.70" y1="546.75" x2="231.30" y2="546.75" stroke="#111" stroke-width="1.0"/>
<text x="226.70" y="548.81" font-size="6.0" text-anchor="end" fill="#262626">0</text>
<line x1="246.70" y1="546.75" x2="246.70" y2="548.95" stroke="#111" stroke-width="1.0"/>
<line x1="270.20" y1="546.75" x2="270.20" y2="548.95" stroke="#111" stroke-width="1.0"/>
<path d="M246.70,546.40 L270.20,544.70" fill="none" stroke="#2b6b40" stroke-width="0.95"/>
<circle cx="246.70" cy="546.40" r="1.3" fill="#2b6b40"/>
<circle cx="270.20" cy="544.70" r="1.3" fill="#2b6b40"/>
<path d="M246.70,546.00 L270.20,541.00" fill="none" stroke="#b9a3d3" stroke-width="0.95"/>
<circle cx="246.70" cy="546.00" r="1.3" fill="#b9a3d3"/>
<circle cx="270.20" cy="541.00" r="1.3" fill="#b9a3d3"/>
<path d="M246.70,545.50 L270.20,538.60" fill="none" stroke="#e8921e" stroke-width="0.95"/>
<circle cx="246.70" cy="545.50" r="1.3" fill="#e8921e"/>
<circle cx="270.20" cy="538.60" r="1.3" fill="#e8921e"/>
<path d="M246.70,543.60 L270.20,536.50" fill="none" stroke="#4b1a6e" stroke-width="0.95"/>
<circle cx="246.70" cy="543.60" r="1.3" fill="#4b1a6e"/>
<circle cx="270.20" cy="536.50" r="1.3" fill="#4b1a6e"/>
<path d="M246.70,541.60 L270.20,535.10" fill="none" stroke="#b8163a" stroke-width="0.95"/>
<circle cx="246.70" cy="541.60" r="1.3" fill="#b8163a"/>
<circle cx="270.20" cy="535.10" r="1.3" fill="#b8163a"/>
<path d="M246.70,546.00 L270.20,530.40" fill="none" stroke="#5aab3c" stroke-width="0.95"/>
<circle cx="246.70" cy="546.00" r="1.3" fill="#5aab3c"/>
<circle cx="270.20" cy="530.40" r="1.3" fill="#5aab3c"/>
<path d="M246.70,544.20 L270.20,494.00" fill="none" stroke="#1f3f8f" stroke-width="0.95"/>
<circle cx="246.70" cy="544.20" r="1.3" fill="#1f3f8f"/>
<circle cx="270.20" cy="494.00" r="1.3" fill="#1f3f8f"/>
<text x="246.70" y="557.53" font-size="5.6" text-anchor="middle" fill="#262626">-</text>
<text x="270.20" y="557.53" font-size="5.6" text-anchor="middle" fill="#262626">+</text>
<line x1="237.00" y1="563.20" x2="277.00" y2="563.20" stroke="#111" stroke-width="1.2"/>
<text x="257.00" y="571.87" font-size="6.6" text-anchor="middle" fill="#262626" textLength="31.30" lengthAdjust="spacingAndGlyphs">CD40L/IL-4</text>
<text x="256.60" y="505.36" font-size="6.0" text-anchor="middle" fill="#262626">ns</text>
<text x="212.60" y="517.60" font-size="8.8" text-anchor="middle" fill="#262626" textLength="47.66" lengthAdjust="spacingAndGlyphs" transform="rotate(-90 212.60 517.60)">%p-Syk positive</text>
<text x="163.30" y="590.40" font-size="6.4" text-anchor="middle" fill="#262626" textLength="36.50" lengthAdjust="spacingAndGlyphs">KEY (Fig. 7D)</text>
<line x1="93.00" y1="598.00" x2="102.30" y2="598.00" stroke="#b8163a" stroke-width="1.1"/>
<circle cx="97.65" cy="598.00" r="1.6" fill="#b8163a"/>
<text x="106.20" y="600.20" font-size="6.4" text-anchor="start" fill="#262626" textLength="17.30" lengthAdjust="spacingAndGlyphs">CLL15</text>
<line x1="130.80" y1="598.00" x2="140.10" y2="598.00" stroke="#4b1a6e" stroke-width="1.1"/>
<circle cx="135.45" cy="598.00" r="1.6" fill="#4b1a6e"/>
<text x="143.80" y="600.20" font-size="6.4" text-anchor="start" fill="#262626" textLength="17.30" lengthAdjust="spacingAndGlyphs">CLL19</text>
<line x1="168.50" y1="598.00" x2="177.80" y2="598.00" stroke="#5aab3c" stroke-width="1.1"/>
<circle cx="173.15" cy="598.00" r="1.6" fill="#5aab3c"/>
<text x="181.50" y="600.20" font-size="6.4" text-anchor="start" fill="#262626" textLength="16.70" lengthAdjust="spacingAndGlyphs">CLL11</text>
<line x1="206.00" y1="598.00" x2="215.30" y2="598.00" stroke="#1f3f8f" stroke-width="1.1"/>
<circle cx="210.65" cy="598.00" r="1.6" fill="#1f3f8f"/>
<text x="219.20" y="600.20" font-size="6.4" text-anchor="start" fill="#262626" textLength="17.30" lengthAdjust="spacingAndGlyphs">CLL03</text>
<line x1="112.30" y1="606.60" x2="121.60" y2="606.60" stroke="#b9a3d3" stroke-width="1.1"/>
<circle cx="116.95" cy="606.60" r="1.6" fill="#b9a3d3"/>
<text x="125.40" y="608.80" font-size="6.4" text-anchor="start" fill="#262626" textLength="17.00" lengthAdjust="spacingAndGlyphs">CLL14</text>
<line x1="149.20" y1="606.60" x2="158.50" y2="606.60" stroke="#e8921e" stroke-width="1.1"/>
<circle cx="153.85" cy="606.60" r="1.6" fill="#e8921e"/>
<text x="163.00" y="608.80" font-size="6.4" text-anchor="start" fill="#262626" textLength="17.00" lengthAdjust="spacingAndGlyphs">CLL13</text>
<line x1="187.50" y1="606.60" x2="196.80" y2="606.60" stroke="#2b6b40" stroke-width="1.1"/>
<circle cx="192.15" cy="606.60" r="1.6" fill="#2b6b40"/>
<text x="200.30" y="608.80" font-size="6.4" text-anchor="start" fill="#262626" textLength="17.40" lengthAdjust="spacingAndGlyphs">CLL10</text>
<text x="69.40" y="648.20" font-size="6.7" text-anchor="middle" fill="#262626" textLength="36.30" lengthAdjust="spacingAndGlyphs">CLL20: Ki-67</text>
<line x1="43.75" y1="653.60" x2="43.75" y2="709.50" stroke="#111" stroke-width="1.45"/>
<line x1="43.15" y1="708.90" x2="94.50" y2="708.90" stroke="#111" stroke-width="1.45"/>
<line x1="41.15" y1="656.25" x2="43.75" y2="656.25" stroke="#111" stroke-width="1.0"/>
<text x="37.45" y="658.31" font-size="6.0" text-anchor="end" fill="#262626">8</text>
<line x1="41.15" y1="669.40" x2="43.75" y2="669.40" stroke="#111" stroke-width="1.0"/>
<text x="37.45" y="671.46" font-size="6.0" text-anchor="end" fill="#262626">6</text>
<line x1="41.15" y1="682.60" x2="43.75" y2="682.60" stroke="#111" stroke-width="1.0"/>
<text x="37.45" y="684.66" font-size="6.0" text-anchor="end" fill="#262626">4</text>
<line x1="41.15" y1="695.80" x2="43.75" y2="695.80" stroke="#111" stroke-width="1.0"/>
<text x="37.45" y="697.86" font-size="6.0" text-anchor="end" fill="#262626">2</text>
<line x1="41.15" y1="708.90" x2="43.75" y2="708.90" stroke="#111" stroke-width="1.0"/>
<text x="37.45" y="710.96" font-size="6.0" text-anchor="end" fill="#262626">0</text>
<line x1="57.50" y1="708.90" x2="57.50" y2="711.10" stroke="#111" stroke-width="1.0"/>
<text x="57.50" y="721.56" font-size="6.0" text-anchor="middle" fill="#262626" textLength="7.00" lengthAdjust="spacingAndGlyphs">T1</text>
<line x1="79.50" y1="708.90" x2="79.50" y2="711.10" stroke="#111" stroke-width="1.0"/>
<text x="79.50" y="721.56" font-size="6.0" text-anchor="middle" fill="#262626" textLength="7.00" lengthAdjust="spacingAndGlyphs">T2</text>
<path d="M57.50,706.30 L79.50,670.50" fill="none" stroke="#2a55a3" stroke-width="1.15"/>
<circle cx="57.50" cy="706.30" r="1.6" fill="#2a55a3"/>
<circle cx="79.50" cy="670.50" r="1.6" fill="#2a55a3"/>
<text x="28.30" y="681.30" font-size="8.8" text-anchor="middle" fill="#262626" textLength="46.22" lengthAdjust="spacingAndGlyphs" transform="rotate(-90 28.30 681.30)">% ki-67 positive</text>
<text x="175.30" y="648.04" font-size="6.8" text-anchor="middle" fill="#262626" textLength="44.50" lengthAdjust="spacingAndGlyphs">CLL20: IgM/IgD</text>
<line x1="149.30" y1="652.40" x2="149.30" y2="709.60" stroke="#111" stroke-width="1.45"/>
<line x1="148.70" y1="709.00" x2="200.50" y2="709.00" stroke="#111" stroke-width="1.45"/>
<line x1="146.70" y1="655.50" x2="149.30" y2="655.50" stroke="#111" stroke-width="1.0"/>
<text x="144.70" y="657.56" font-size="6.0" text-anchor="end" fill="#262626">60</text>
<line x1="146.70" y1="673.30" x2="149.30" y2="673.30" stroke="#111" stroke-width="1.0"/>
<text x="144.70" y="675.36" font-size="6.0" text-anchor="end" fill="#262626">40</text>
<line x1="146.70" y1="691.20" x2="149.30" y2="691.20" stroke="#111" stroke-width="1.0"/>
<text x="144.70" y="693.26" font-size="6.0" text-anchor="end" fill="#262626">20</text>
<line x1="146.70" y1="709.00" x2="149.30" y2="709.00" stroke="#111" stroke-width="1.0"/>
<text x="144.70" y="711.06" font-size="6.0" text-anchor="end" fill="#262626">0</text>
<line x1="163.60" y1="709.00" x2="163.60" y2="711.20" stroke="#111" stroke-width="1.0"/>
<text x="163.60" y="721.56" font-size="6.0" text-anchor="middle" fill="#262626" textLength="7.00" lengthAdjust="spacingAndGlyphs">T1</text>
<line x1="186.10" y1="709.00" x2="186.10" y2="711.20" stroke="#111" stroke-width="1.0"/>
<text x="186.10" y="721.56" font-size="6.0" text-anchor="middle" fill="#262626" textLength="7.00" lengthAdjust="spacingAndGlyphs">T2</text>
<path d="M163.60,698.50 L186.10,664.50" fill="none" stroke="#1f3f8f" stroke-width="1.15"/>
<circle cx="163.60" cy="698.50" r="1.6" fill="#1f3f8f"/>
<circle cx="186.10" cy="664.50" r="1.6" fill="#1f3f8f"/>
<path d="M163.60,704.60 L186.10,683.40" fill="none" stroke="#e8921e" stroke-width="1.15"/>
<circle cx="163.60" cy="704.60" r="1.6" fill="#e8921e"/>
<circle cx="186.10" cy="683.40" r="1.6" fill="#e8921e"/>
<path d="M163.60,707.40 L186.10,695.70" fill="none" stroke="#5aab3c" stroke-width="1.15"/>
<circle cx="163.60" cy="707.40" r="1.6" fill="#5aab3c"/>
<circle cx="186.10" cy="695.70" r="1.6" fill="#5aab3c"/>
<text x="175.20" y="668.83" font-size="5.6" text-anchor="middle" fill="#262626">ns</text>
<text x="119.30" y="681.30" font-size="8.8" text-anchor="middle" fill="#262626" textLength="53.20" lengthAdjust="spacingAndGlyphs" transform="rotate(-90 119.30 681.30)">% phosphoprotein</text>
<text x="131.00" y="681.30" font-size="8.8" text-anchor="middle" fill="#262626" textLength="22.38" lengthAdjust="spacingAndGlyphs" transform="rotate(-90 131.00 681.30)">positive</text>
<text x="226.50" y="656.10" font-size="6.4" text-anchor="middle" fill="#262626" textLength="11.50" lengthAdjust="spacingAndGlyphs">KEY</text>
<text x="226.80" y="663.60" font-size="6.4" text-anchor="middle" fill="#262626" textLength="28.50" lengthAdjust="spacingAndGlyphs">(Fig. 7E,F)</text>
<line x1="212.10" y1="671.40" x2="221.90" y2="671.40" stroke="#1f3f8f" stroke-width="1.1"/>
<circle cx="217.00" cy="671.40" r="1.6" fill="#1f3f8f"/>
<text x="225.60" y="673.60" font-size="6.4" text-anchor="start" fill="#262626" textLength="13.62" lengthAdjust="spacingAndGlyphs">p-Erk</text>
<line x1="212.10" y1="681.80" x2="221.90" y2="681.80" stroke="#b8163a" stroke-width="1.1"/>
<circle cx="217.00" cy="681.80" r="1.6" fill="#b8163a"/>
<text x="225.60" y="684.00" font-size="6.4" text-anchor="start" fill="#262626" textLength="14.57" lengthAdjust="spacingAndGlyphs">p-Syk</text>
<line x1="212.10" y1="692.30" x2="221.90" y2="692.30" stroke="#2b6b40" stroke-width="1.1"/>
<circle cx="217.00" cy="692.30" r="1.6" fill="#2b6b40"/>
<text x="225.60" y="694.50" font-size="6.4" text-anchor="start" fill="#262626" textLength="13.30" lengthAdjust="spacingAndGlyphs">p-Akt</text>
<polygon points="418.80,528.86 418.80,528.86 452.40,518.54 452.40,528.86" fill="url(#g0)"/>
<polygon points="455.20,528.86 455.20,517.68 490.20,506.93 490.20,528.86" fill="url(#g1)"/>
<polygon points="382.00,553.09 382.00,553.09 414.50,546.50 414.50,553.09" fill="url(#g2)"/>
<polygon points="417.30,553.09 417.30,545.94 452.40,538.82 452.40,553.09" fill="url(#g3)"/>
<polygon points="455.20,553.09 455.20,538.25 490.20,531.16 490.20,553.09" fill="url(#g4)"/>
<polygon points="421.00,577.32 421.00,577.32 452.40,567.37 452.40,577.32" fill="url(#g5)"/>
<polygon points="455.20,577.32 455.20,566.48 490.20,555.39 490.20,577.32" fill="url(#g6)"/>
<rect x="379.40" y="580.42" width="35.30" height="19.63" fill="#c8d6ee"/>
<rect x="417.20" y="580.42" width="35.40" height="19.63" fill="url(#g7)"/>
<rect x="455.10" y="580.42" width="35.10" height="19.63" fill="url(#g8)"/>
<polygon points="384.00,625.78 384.00,625.78 414.50,619.48 414.50,625.78" fill="url(#g9)"/>
<polygon points="417.30,625.78 417.30,618.90 452.40,611.66 452.40,625.78" fill="url(#g10)"/>
<polygon points="455.20,625.78 455.20,611.08 490.20,603.85 490.20,625.78" fill="url(#g11)"/>
<polygon points="418.80,650.01 418.80,650.01 452.40,639.69 452.40,650.01" fill="url(#g12)"/>
<polygon points="455.20,650.01 455.20,638.83 490.20,628.08 490.20,650.01" fill="url(#g13)"/>
<polygon points="384.00,674.24 384.00,674.24 414.50,667.94 414.50,674.24" fill="url(#g14)"/>
<polygon points="417.30,674.24 417.30,667.36 452.40,660.12 452.40,674.24" fill="url(#g15)"/>
<polygon points="455.20,674.24 455.20,659.54 490.20,652.31 490.20,674.24" fill="url(#g16)"/>
<rect x="379.60" y="677.64" width="35.00" height="19.33" fill="#a2c67c" stroke="#cfe5bb" stroke-width="0.9"/>
<rect x="417.50" y="677.64" width="35.00" height="19.33" fill="#a2c67c" stroke="#cfe5bb" stroke-width="0.9"/>
<rect x="455.40" y="677.64" width="34.60" height="19.33" fill="#a2c67c" stroke="#cfe5bb" stroke-width="0.9"/>
<polygon points="379.50,702.07 414.80,714.27 414.80,722.30 379.50,722.30" fill="url(#g17)"/>
<rect x="417.20" y="714.27" width="35.20" height="8.03" fill="url(#g18)"/>
<rect x="455.00" y="714.27" width="35.20" height="8.03" fill="url(#g19)"/>
<polygon points="384.00,747.13 384.00,747.13 414.50,740.80 414.50,747.13" fill="url(#g20)"/>
<polygon points="417.30,747.13 417.30,740.22 452.40,732.94 452.40,747.13" fill="url(#g21)"/>
<polygon points="455.20,747.13 455.20,732.36 490.20,725.10 490.20,747.13" fill="url(#g22)"/>
<line x1="317.50" y1="480.90" x2="317.50" y2="748.63" stroke="#111" stroke-width="1.7"/>
<line x1="378.00" y1="480.90" x2="378.00" y2="748.63" stroke="#111" stroke-width="1.4"/>
<line x1="415.90" y1="480.90" x2="415.90" y2="748.63" stroke="#111" stroke-width="1.4"/>
<line x1="453.80" y1="480.90" x2="453.80" y2="748.63" stroke="#111" stroke-width="1.4"/>
<line x1="490.80" y1="480.90" x2="490.80" y2="748.63" stroke="#111" stroke-width="1.7"/>
<line x1="316.90" y1="481.50" x2="491.40" y2="481.50" stroke="#111" stroke-width="1.7"/>
<line x1="316.90" y1="505.73" x2="491.40" y2="505.73" stroke="#111" stroke-width="1.45"/>
<line x1="316.90" y1="529.96" x2="491.40" y2="529.96" stroke="#111" stroke-width="1.45"/>
<line x1="316.90" y1="554.19" x2="491.40" y2="554.19" stroke="#111" stroke-width="1.45"/>
<line x1="316.90" y1="578.42" x2="491.40" y2="578.42" stroke="#111" stroke-width="1.45"/>
<line x1="316.90" y1="602.65" x2="491.40" y2="602.65" stroke="#111" stroke-width="1.45"/>
<line x1="316.90" y1="626.88" x2="491.40" y2="626.88" stroke="#111" stroke-width="1.45"/>
<line x1="316.90" y1="651.11" x2="491.40" y2="651.11" stroke="#111" stroke-width="1.45"/>
<line x1="316.90" y1="675.34" x2="491.40" y2="675.34" stroke="#111" stroke-width="1.45"/>
<line x1="316.90" y1="699.57" x2="491.40" y2="699.57" stroke="#111" stroke-width="1.45"/>
<line x1="316.90" y1="723.80" x2="491.40" y2="723.80" stroke="#111" stroke-width="1.45"/>
<line x1="316.90" y1="748.03" x2="491.40" y2="748.03" stroke="#111" stroke-width="1.7"/>
<line x1="415.90" y1="723.80" x2="415.90" y2="748.03" stroke="#111" stroke-width="1.9"/>
<line x1="453.80" y1="723.80" x2="453.80" y2="748.03" stroke="#111" stroke-width="1.9"/>
<text x="396.95" y="495.72" font-size="7.0" text-anchor="middle" fill="#262626" textLength="13.65" lengthAdjust="spacingAndGlyphs">REG</text>
<text x="434.85" y="495.72" font-size="7.0" text-anchor="middle" fill="#262626" textLength="19.25" lengthAdjust="spacingAndGlyphs">INDOL</text>
<text x="472.30" y="495.72" font-size="7.0" text-anchor="middle" fill="#262626" textLength="18.55" lengthAdjust="spacingAndGlyphs">PROG</text>
<text x="347.75" y="516.28" font-size="6.8" text-anchor="middle" fill="#262626" textLength="10.50" lengthAdjust="spacingAndGlyphs">IgM</text>
<text x="347.75" y="523.68" font-size="6.8" text-anchor="middle" fill="#262626" textLength="24.87" lengthAdjust="spacingAndGlyphs">signaling</text>
<text x="347.75" y="540.51" font-size="6.8" text-anchor="middle" fill="#262626" textLength="9.80" lengthAdjust="spacingAndGlyphs">IgD</text>
<text x="347.75" y="547.91" font-size="6.8" text-anchor="middle" fill="#262626" textLength="24.87" lengthAdjust="spacingAndGlyphs">signaling</text>
<text x="347.75" y="568.34" font-size="6.8" text-anchor="middle" fill="#262626" textLength="19.61" lengthAdjust="spacingAndGlyphs">CD49d</text>
<text x="347.75" y="588.97" font-size="6.8" text-anchor="middle" fill="#262626" textLength="25.21" lengthAdjust="spacingAndGlyphs">Genomic</text>
<text x="347.75" y="596.37" font-size="6.8" text-anchor="middle" fill="#262626" textLength="18.90" lengthAdjust="spacingAndGlyphs">drivers</text>
<text x="347.75" y="613.20" font-size="6.8" text-anchor="middle" fill="#262626" textLength="25.21" lengthAdjust="spacingAndGlyphs">Genomic</text>
<text x="347.75" y="620.60" font-size="6.8" text-anchor="middle" fill="#262626" textLength="29.76" lengthAdjust="spacingAndGlyphs">complexity</text>
<text x="347.75" y="637.43" font-size="6.8" text-anchor="middle" fill="#262626" textLength="17.86" lengthAdjust="spacingAndGlyphs">Clonal</text>
<text x="347.75" y="644.83" font-size="6.8" text-anchor="middle" fill="#262626" textLength="25.22" lengthAdjust="spacingAndGlyphs">evolution</text>
<text x="347.75" y="665.26" font-size="6.8" text-anchor="middle" fill="#262626" textLength="32.21" lengthAdjust="spacingAndGlyphs">Metabolism</text>
<text x="347.75" y="689.49" font-size="6.8" text-anchor="middle" fill="#262626" textLength="14.35" lengthAdjust="spacingAndGlyphs">Bcl-2</text>
<text x="347.75" y="713.72" font-size="6.8" text-anchor="middle" fill="#262626" textLength="15.05" lengthAdjust="spacingAndGlyphs">FasR</text>
<text x="347.75" y="734.35" font-size="6.8" text-anchor="middle" fill="#262626" textLength="15.05" lengthAdjust="spacingAndGlyphs">T-cell</text>
<text x="347.75" y="741.75" font-size="6.8" text-anchor="middle" fill="#262626" textLength="30.47" lengthAdjust="spacingAndGlyphs">exhaustion</text>
<text x="396.95" y="518.67" font-size="5.6" text-anchor="middle" fill="#262626" textLength="7.90" lengthAdjust="spacingAndGlyphs">-/+</text>
<text x="434.85" y="518.67" font-size="5.6" text-anchor="middle" fill="#262626" textLength="3.05" lengthAdjust="spacing">+</text>
<text x="472.30" y="518.67" font-size="5.6" text-anchor="middle" fill="#262626" textLength="7.00" lengthAdjust="spacing">++</text>
<text x="396.95" y="542.90" font-size="5.6" text-anchor="middle" fill="#262626" textLength="3.05" lengthAdjust="spacing">+</text>
<text x="434.85" y="542.90" font-size="5.6" text-anchor="middle" fill="#262626" textLength="7.00" lengthAdjust="spacing">++</text>
<text x="472.30" y="542.90" font-size="5.6" text-anchor="middle" fill="#262626" textLength="10.95" lengthAdjust="spacing">+++</text>
<text x="396.95" y="567.13" font-size="5.6" text-anchor="middle" fill="#262626" textLength="7.90" lengthAdjust="spacingAndGlyphs">-/+</text>
<text x="434.85" y="567.13" font-size="5.6" text-anchor="middle" fill="#262626" textLength="3.05" lengthAdjust="spacing">+</text>
<text x="472.30" y="567.13" font-size="5.6" text-anchor="middle" fill="#262626" textLength="13.00" lengthAdjust="spacingAndGlyphs">+/++</text>
<text x="396.95" y="616.80" font-size="6.8" text-anchor="middle" fill="#262626" textLength="11.56" lengthAdjust="spacingAndGlyphs">Low</text>
<text x="396.95" y="641.03" font-size="6.8" text-anchor="middle" fill="#262626" textLength="19.61" lengthAdjust="spacingAndGlyphs">Absent</text>
<text x="396.95" y="665.26" font-size="6.8" text-anchor="middle" fill="#262626" textLength="11.56" lengthAdjust="spacingAndGlyphs">Low</text>
<text x="434.85" y="665.26" font-size="6.8" text-anchor="middle" fill="#262626" textLength="18.56" lengthAdjust="spacingAndGlyphs">Higher</text>
<text x="396.95" y="688.27" font-size="5.6" text-anchor="middle" fill="#262626" textLength="10.95" lengthAdjust="spacing">+++</text>
<text x="434.85" y="688.27" font-size="5.6" text-anchor="middle" fill="#262626" textLength="10.95" lengthAdjust="spacing">+++</text>
<text x="472.30" y="688.27" font-size="5.6" text-anchor="middle" fill="#262626" textLength="10.95" lengthAdjust="spacing">+++</text>
<text x="396.95" y="712.50" font-size="5.6" text-anchor="middle" fill="#262626" textLength="7.00" lengthAdjust="spacing">++</text>
<text x="434.85" y="712.50" font-size="5.6" text-anchor="middle" fill="#262626" textLength="3.05" lengthAdjust="spacing">+</text>
<text x="472.30" y="712.50" font-size="5.6" text-anchor="middle" fill="#262626" textLength="3.05" lengthAdjust="spacing">+</text>
<text x="396.95" y="736.74" font-size="5.6" text-anchor="middle" fill="#262626" textLength="3.05" lengthAdjust="spacing">+</text>
<text x="434.85" y="736.74" font-size="5.6" text-anchor="middle" fill="#262626" textLength="7.00" lengthAdjust="spacing">++</text>
<text x="472.30" y="736.74" font-size="5.6" text-anchor="middle" fill="#262626" textLength="10.95" lengthAdjust="spacing">+++</text>
<text x="396.95" y="588.97" font-size="6.8" text-anchor="middle" fill="#262626" textLength="20.66" lengthAdjust="spacingAndGlyphs">May be</text>
<text x="396.95" y="596.37" font-size="6.8" text-anchor="middle" fill="#262626" textLength="21.01" lengthAdjust="spacingAndGlyphs">present</text>
<rect x="0.5" y="0.5" width="519" height="756" fill="none" stroke="#000" stroke-width="1"/>
<rect x="1.5" y="1.5" width="517" height="754" fill="none" stroke="#999" stroke-width="0.6"/>
</svg>
</body></html>
